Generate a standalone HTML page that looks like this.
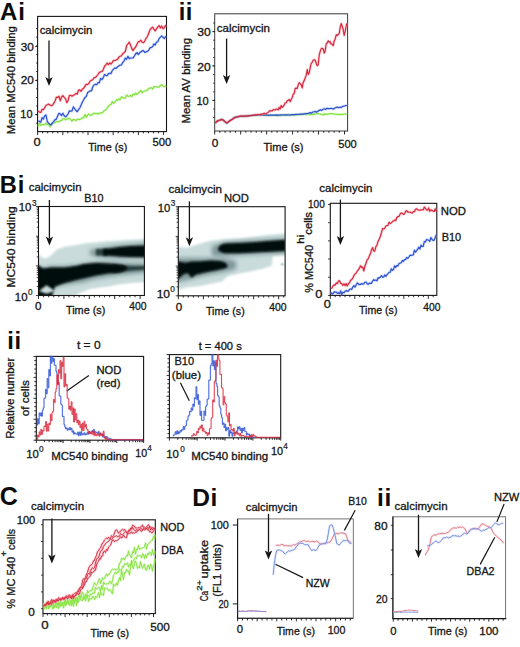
<!DOCTYPE html>
<html><head><meta charset="utf-8"><style>
html,body{margin:0;padding:0;background:#fff;}
svg{display:block;font-family:"Liberation Sans", sans-serif;}
</style></head><body>
<svg width="520" height="647" viewBox="0 0 520 647">
<rect width="520" height="647" fill="#fff"/>
<text x="0.0" y="19.7" font-size="24" font-weight="bold" fill="#0c0c0c" letter-spacing="1.0">Ai</text>
<rect x="37.6" y="16.4" width="128.9" height="115.19999999999999" fill="none" stroke="#161616" stroke-width="1.1"/>
<text x="39.67" y="34.1" font-size="10.6" font-weight="normal" fill="#161616" stroke="#161616" stroke-width="0.3" textLength="52.66" lengthAdjust="spacingAndGlyphs">calcimycin</text>
<line x1="49.00" y1="40.40" x2="49.00" y2="79.00" stroke="#161616" stroke-width="1.3"/>
<path d="M45.30,77.00 L49.00,79.20 L52.70,77.00 L49.00,86.00 Z" fill="#161616"/>
<text x="20.66" y="50.5" font-size="10.8" font-weight="normal" fill="#161616" stroke="#161616" stroke-width="0.3" textLength="13.08" lengthAdjust="spacingAndGlyphs">30</text>
<line x1="37.60" y1="46.60" x2="35.20" y2="46.60" stroke="#161616" stroke-width="0.9"/>
<text x="20.66" y="84.1" font-size="10.8" font-weight="normal" fill="#161616" stroke="#161616" stroke-width="0.3" textLength="13.08" lengthAdjust="spacingAndGlyphs">20</text>
<line x1="37.60" y1="80.60" x2="35.20" y2="80.60" stroke="#161616" stroke-width="0.9"/>
<text x="20.36" y="117.7" font-size="10.8" font-weight="normal" fill="#161616" stroke="#161616" stroke-width="0.3" textLength="12.18" lengthAdjust="spacingAndGlyphs">10</text>
<line x1="37.60" y1="114.60" x2="35.20" y2="114.60" stroke="#161616" stroke-width="0.9"/>
<line x1="37.60" y1="123.20" x2="36.00" y2="123.20" stroke="#161616" stroke-width="0.8"/>
<line x1="37.60" y1="114.60" x2="36.00" y2="114.60" stroke="#161616" stroke-width="0.8"/>
<line x1="37.60" y1="106.00" x2="36.00" y2="106.00" stroke="#161616" stroke-width="0.8"/>
<line x1="37.60" y1="97.40" x2="36.00" y2="97.40" stroke="#161616" stroke-width="0.8"/>
<line x1="37.60" y1="88.80" x2="36.00" y2="88.80" stroke="#161616" stroke-width="0.8"/>
<line x1="37.60" y1="80.20" x2="36.00" y2="80.20" stroke="#161616" stroke-width="0.8"/>
<line x1="37.60" y1="71.60" x2="36.00" y2="71.60" stroke="#161616" stroke-width="0.8"/>
<line x1="37.60" y1="63.00" x2="36.00" y2="63.00" stroke="#161616" stroke-width="0.8"/>
<line x1="37.60" y1="54.40" x2="36.00" y2="54.40" stroke="#161616" stroke-width="0.8"/>
<line x1="37.60" y1="45.80" x2="36.00" y2="45.80" stroke="#161616" stroke-width="0.8"/>
<line x1="37.60" y1="37.20" x2="36.00" y2="37.20" stroke="#161616" stroke-width="0.8"/>
<line x1="37.60" y1="28.60" x2="36.00" y2="28.60" stroke="#161616" stroke-width="0.8"/>
<text x="-0.55" y="0" font-size="11" fill="#161616" stroke="#161616" stroke-width="0.3" transform="translate(14.6,133.8) rotate(-90)" textLength="108.30" lengthAdjust="spacingAndGlyphs">Mean MC540 binding</text>
<line x1="37.60" y1="131.60" x2="37.60" y2="135.10" stroke="#161616" stroke-width="0.9"/>
<line x1="42.64" y1="131.60" x2="42.64" y2="133.40" stroke="#161616" stroke-width="0.9"/>
<line x1="47.68" y1="131.60" x2="47.68" y2="133.40" stroke="#161616" stroke-width="0.9"/>
<line x1="52.72" y1="131.60" x2="52.72" y2="133.40" stroke="#161616" stroke-width="0.9"/>
<line x1="57.76" y1="131.60" x2="57.76" y2="133.40" stroke="#161616" stroke-width="0.9"/>
<line x1="62.80" y1="131.60" x2="62.80" y2="135.10" stroke="#161616" stroke-width="0.9"/>
<line x1="67.84" y1="131.60" x2="67.84" y2="133.40" stroke="#161616" stroke-width="0.9"/>
<line x1="72.88" y1="131.60" x2="72.88" y2="133.40" stroke="#161616" stroke-width="0.9"/>
<line x1="77.92" y1="131.60" x2="77.92" y2="133.40" stroke="#161616" stroke-width="0.9"/>
<line x1="82.96" y1="131.60" x2="82.96" y2="133.40" stroke="#161616" stroke-width="0.9"/>
<line x1="88.00" y1="131.60" x2="88.00" y2="135.10" stroke="#161616" stroke-width="0.9"/>
<line x1="93.04" y1="131.60" x2="93.04" y2="133.40" stroke="#161616" stroke-width="0.9"/>
<line x1="98.08" y1="131.60" x2="98.08" y2="133.40" stroke="#161616" stroke-width="0.9"/>
<line x1="103.12" y1="131.60" x2="103.12" y2="133.40" stroke="#161616" stroke-width="0.9"/>
<line x1="108.16" y1="131.60" x2="108.16" y2="133.40" stroke="#161616" stroke-width="0.9"/>
<line x1="113.20" y1="131.60" x2="113.20" y2="135.10" stroke="#161616" stroke-width="0.9"/>
<line x1="118.24" y1="131.60" x2="118.24" y2="133.40" stroke="#161616" stroke-width="0.9"/>
<line x1="123.28" y1="131.60" x2="123.28" y2="133.40" stroke="#161616" stroke-width="0.9"/>
<line x1="128.32" y1="131.60" x2="128.32" y2="133.40" stroke="#161616" stroke-width="0.9"/>
<line x1="133.36" y1="131.60" x2="133.36" y2="133.40" stroke="#161616" stroke-width="0.9"/>
<line x1="138.40" y1="131.60" x2="138.40" y2="135.10" stroke="#161616" stroke-width="0.9"/>
<line x1="143.44" y1="131.60" x2="143.44" y2="133.40" stroke="#161616" stroke-width="0.9"/>
<line x1="148.48" y1="131.60" x2="148.48" y2="133.40" stroke="#161616" stroke-width="0.9"/>
<line x1="153.52" y1="131.60" x2="153.52" y2="133.40" stroke="#161616" stroke-width="0.9"/>
<line x1="158.56" y1="131.60" x2="158.56" y2="133.40" stroke="#161616" stroke-width="0.9"/>
<line x1="163.60" y1="131.60" x2="163.60" y2="135.10" stroke="#161616" stroke-width="0.9"/>
<text x="33.46" y="145.9" font-size="10.8" font-weight="normal" fill="#161616" stroke="#161616" stroke-width="0.3" textLength="7.18" lengthAdjust="spacingAndGlyphs">0</text>
<text x="152.56" y="145.8" font-size="10.8" font-weight="normal" fill="#161616" stroke="#161616" stroke-width="0.3" textLength="18.78" lengthAdjust="spacingAndGlyphs">500</text>
<text x="88.16" y="150.6" font-size="10.8" font-weight="normal" fill="#161616" stroke="#161616" stroke-width="0.3" textLength="39.08" lengthAdjust="spacingAndGlyphs">Time (s)</text>
<text x="178.7" y="19.6" font-size="23.7" font-weight="bold" fill="#0c0c0c" letter-spacing="0.6">ii</text>
<rect x="214.7" y="13.8" width="132.90000000000003" height="117.2" fill="none" stroke="#3a3a3a" stroke-width="1.0"/>
<text x="216.77" y="32.0" font-size="10.6" font-weight="normal" fill="#161616" stroke="#161616" stroke-width="0.3" textLength="53.26" lengthAdjust="spacingAndGlyphs">calcimycin</text>
<line x1="226.60" y1="38.50" x2="226.60" y2="77.10" stroke="#161616" stroke-width="1.3"/>
<path d="M222.90,75.10 L226.60,77.30 L230.30,75.10 L226.60,84.10 Z" fill="#161616"/>
<text x="197.16" y="35.8" font-size="10.8" font-weight="normal" fill="#161616" stroke="#161616" stroke-width="0.3" textLength="13.48" lengthAdjust="spacingAndGlyphs">30</text>
<line x1="214.70" y1="31.60" x2="212.30" y2="31.60" stroke="#161616" stroke-width="0.9"/>
<text x="197.16" y="71" font-size="10.8" font-weight="normal" fill="#161616" stroke="#161616" stroke-width="0.3" textLength="13.48" lengthAdjust="spacingAndGlyphs">20</text>
<line x1="214.70" y1="65.90" x2="212.30" y2="65.90" stroke="#161616" stroke-width="0.9"/>
<text x="196.46" y="105.3" font-size="10.8" font-weight="normal" fill="#161616" stroke="#161616" stroke-width="0.3" textLength="12.28" lengthAdjust="spacingAndGlyphs">10</text>
<line x1="214.70" y1="100.40" x2="212.30" y2="100.40" stroke="#161616" stroke-width="0.9"/>
<line x1="214.70" y1="117.60" x2="213.10" y2="117.60" stroke="#161616" stroke-width="0.8"/>
<line x1="214.70" y1="109.00" x2="213.10" y2="109.00" stroke="#161616" stroke-width="0.8"/>
<line x1="214.70" y1="100.40" x2="213.10" y2="100.40" stroke="#161616" stroke-width="0.8"/>
<line x1="214.70" y1="91.80" x2="213.10" y2="91.80" stroke="#161616" stroke-width="0.8"/>
<line x1="214.70" y1="83.20" x2="213.10" y2="83.20" stroke="#161616" stroke-width="0.8"/>
<line x1="214.70" y1="74.60" x2="213.10" y2="74.60" stroke="#161616" stroke-width="0.8"/>
<line x1="214.70" y1="66.00" x2="213.10" y2="66.00" stroke="#161616" stroke-width="0.8"/>
<line x1="214.70" y1="57.40" x2="213.10" y2="57.40" stroke="#161616" stroke-width="0.8"/>
<line x1="214.70" y1="48.80" x2="213.10" y2="48.80" stroke="#161616" stroke-width="0.8"/>
<line x1="214.70" y1="40.20" x2="213.10" y2="40.20" stroke="#161616" stroke-width="0.8"/>
<line x1="214.70" y1="31.60" x2="213.10" y2="31.60" stroke="#161616" stroke-width="0.8"/>
<line x1="214.70" y1="23.00" x2="213.10" y2="23.00" stroke="#161616" stroke-width="0.8"/>
<text x="-0.55" y="0" font-size="11" fill="#161616" stroke="#161616" stroke-width="0.3" transform="translate(190.4,123) rotate(-90)" textLength="85.60" lengthAdjust="spacingAndGlyphs">Mean AV binding</text>
<line x1="214.70" y1="131.00" x2="214.70" y2="134.50" stroke="#161616" stroke-width="0.9"/>
<line x1="219.89" y1="131.00" x2="219.89" y2="132.80" stroke="#161616" stroke-width="0.9"/>
<line x1="225.08" y1="131.00" x2="225.08" y2="132.80" stroke="#161616" stroke-width="0.9"/>
<line x1="230.28" y1="131.00" x2="230.28" y2="132.80" stroke="#161616" stroke-width="0.9"/>
<line x1="235.47" y1="131.00" x2="235.47" y2="132.80" stroke="#161616" stroke-width="0.9"/>
<line x1="240.66" y1="131.00" x2="240.66" y2="134.50" stroke="#161616" stroke-width="0.9"/>
<line x1="245.85" y1="131.00" x2="245.85" y2="132.80" stroke="#161616" stroke-width="0.9"/>
<line x1="251.04" y1="131.00" x2="251.04" y2="132.80" stroke="#161616" stroke-width="0.9"/>
<line x1="256.24" y1="131.00" x2="256.24" y2="132.80" stroke="#161616" stroke-width="0.9"/>
<line x1="261.43" y1="131.00" x2="261.43" y2="132.80" stroke="#161616" stroke-width="0.9"/>
<line x1="266.62" y1="131.00" x2="266.62" y2="134.50" stroke="#161616" stroke-width="0.9"/>
<line x1="271.81" y1="131.00" x2="271.81" y2="132.80" stroke="#161616" stroke-width="0.9"/>
<line x1="277.00" y1="131.00" x2="277.00" y2="132.80" stroke="#161616" stroke-width="0.9"/>
<line x1="282.20" y1="131.00" x2="282.20" y2="132.80" stroke="#161616" stroke-width="0.9"/>
<line x1="287.39" y1="131.00" x2="287.39" y2="132.80" stroke="#161616" stroke-width="0.9"/>
<line x1="292.58" y1="131.00" x2="292.58" y2="134.50" stroke="#161616" stroke-width="0.9"/>
<line x1="297.77" y1="131.00" x2="297.77" y2="132.80" stroke="#161616" stroke-width="0.9"/>
<line x1="302.96" y1="131.00" x2="302.96" y2="132.80" stroke="#161616" stroke-width="0.9"/>
<line x1="308.16" y1="131.00" x2="308.16" y2="132.80" stroke="#161616" stroke-width="0.9"/>
<line x1="313.35" y1="131.00" x2="313.35" y2="132.80" stroke="#161616" stroke-width="0.9"/>
<line x1="318.54" y1="131.00" x2="318.54" y2="134.50" stroke="#161616" stroke-width="0.9"/>
<line x1="323.73" y1="131.00" x2="323.73" y2="132.80" stroke="#161616" stroke-width="0.9"/>
<line x1="328.92" y1="131.00" x2="328.92" y2="132.80" stroke="#161616" stroke-width="0.9"/>
<line x1="334.12" y1="131.00" x2="334.12" y2="132.80" stroke="#161616" stroke-width="0.9"/>
<line x1="339.31" y1="131.00" x2="339.31" y2="132.80" stroke="#161616" stroke-width="0.9"/>
<line x1="344.50" y1="131.00" x2="344.50" y2="134.50" stroke="#161616" stroke-width="0.9"/>
<text x="211.76" y="147" font-size="10.8" font-weight="normal" fill="#161616" stroke="#161616" stroke-width="0.3" textLength="6.58" lengthAdjust="spacingAndGlyphs">0</text>
<text x="338.26" y="147.9" font-size="10.8" font-weight="normal" fill="#161616" stroke="#161616" stroke-width="0.3" textLength="18.48" lengthAdjust="spacingAndGlyphs">500</text>
<text x="263.46" y="150.5" font-size="10.8" font-weight="normal" fill="#161616" stroke="#161616" stroke-width="0.3" textLength="40.08" lengthAdjust="spacingAndGlyphs">Time (s)</text>
<path d="M38.2,126.6 L39.5,123.0 L40.8,125.3 L42.1,124.5 L43.4,124.6 L44.7,124.8 L46.0,123.2 L47.3,124.5 L48.6,123.8 L49.9,127.1 L51.2,124.5 L52.5,123.7 L53.8,123.3 L55.1,122.4 L56.4,121.6 L57.7,121.6 L59.0,121.8 L60.3,120.7 L61.6,120.6 L62.9,118.7 L64.2,118.6 L65.5,119.8 L66.8,119.0 L68.1,118.2 L69.4,118.8 L70.7,119.6 L72.0,121.0 L73.3,119.4 L74.6,119.6 L75.9,120.7 L77.2,119.3 L78.5,119.2 L79.8,119.6 L81.1,118.8 L82.4,117.8 L83.7,117.8 L85.0,114.5 L86.3,117.1 L87.6,115.1 L88.9,114.0 L90.2,115.3 L91.5,115.2 L92.8,114.0 L94.1,113.1 L95.4,113.7 L96.7,113.3 L98.0,114.2 L99.3,113.4 L100.6,112.7 L101.9,113.2 L103.2,111.9 L104.5,110.3 L105.8,109.9 L107.1,108.4 L108.4,106.1 L109.7,104.8 L111.0,104.7 L112.3,101.6 L113.6,103.3 L114.9,102.2 L116.2,99.8 L117.5,100.4 L118.8,98.9 L120.1,99.6 L121.4,96.9 L122.7,97.4 L124.0,98.2 L125.3,98.2 L126.6,95.1 L127.9,96.1 L129.2,96.4 L130.5,95.3 L131.8,96.7 L133.1,94.1 L134.4,94.8 L135.7,93.1 L137.0,94.5 L138.3,92.8 L139.6,92.0 L140.9,90.4 L142.2,92.7 L143.5,91.5 L144.8,91.0 L146.1,90.8 L147.4,89.8 L148.7,88.6 L150.0,88.0 L151.3,87.6 L152.6,89.0 L153.9,86.5 L155.2,86.9 L156.5,86.9 L157.8,87.1 L159.1,87.1 L160.4,85.4 L161.7,84.8 L163.0,85.9 L164.3,86.7 L165.6,86.1 L166.0,85.6" fill="none" stroke="#b8f090" stroke-width="2.8" stroke-linejoin="round" opacity="0.35"/>
<path d="M38.2,126.6 L39.5,123.0 L40.8,125.3 L42.1,124.5 L43.4,124.6 L44.7,124.8 L46.0,123.2 L47.3,124.5 L48.6,123.8 L49.9,127.1 L51.2,124.5 L52.5,123.7 L53.8,123.3 L55.1,122.4 L56.4,121.6 L57.7,121.6 L59.0,121.8 L60.3,120.7 L61.6,120.6 L62.9,118.7 L64.2,118.6 L65.5,119.8 L66.8,119.0 L68.1,118.2 L69.4,118.8 L70.7,119.6 L72.0,121.0 L73.3,119.4 L74.6,119.6 L75.9,120.7 L77.2,119.3 L78.5,119.2 L79.8,119.6 L81.1,118.8 L82.4,117.8 L83.7,117.8 L85.0,114.5 L86.3,117.1 L87.6,115.1 L88.9,114.0 L90.2,115.3 L91.5,115.2 L92.8,114.0 L94.1,113.1 L95.4,113.7 L96.7,113.3 L98.0,114.2 L99.3,113.4 L100.6,112.7 L101.9,113.2 L103.2,111.9 L104.5,110.3 L105.8,109.9 L107.1,108.4 L108.4,106.1 L109.7,104.8 L111.0,104.7 L112.3,101.6 L113.6,103.3 L114.9,102.2 L116.2,99.8 L117.5,100.4 L118.8,98.9 L120.1,99.6 L121.4,96.9 L122.7,97.4 L124.0,98.2 L125.3,98.2 L126.6,95.1 L127.9,96.1 L129.2,96.4 L130.5,95.3 L131.8,96.7 L133.1,94.1 L134.4,94.8 L135.7,93.1 L137.0,94.5 L138.3,92.8 L139.6,92.0 L140.9,90.4 L142.2,92.7 L143.5,91.5 L144.8,91.0 L146.1,90.8 L147.4,89.8 L148.7,88.6 L150.0,88.0 L151.3,87.6 L152.6,89.0 L153.9,86.5 L155.2,86.9 L156.5,86.9 L157.8,87.1 L159.1,87.1 L160.4,85.4 L161.7,84.8 L163.0,85.9 L164.3,86.7 L165.6,86.1 L166.0,85.6" fill="none" stroke="#84e23c" stroke-width="1.2" stroke-linejoin="round"/>
<path d="M38.2,121.2 L39.5,121.3 L40.8,122.2 L42.1,117.7 L43.4,119.1 L44.7,115.8 L46.0,115.0 L47.3,121.7 L48.6,123.2 L49.9,124.3 L51.2,124.9 L52.5,122.6 L53.8,121.4 L55.1,119.6 L56.4,119.1 L57.7,115.7 L59.0,113.3 L60.3,114.0 L61.6,115.5 L62.9,113.3 L64.2,115.7 L65.5,116.9 L66.8,115.7 L68.1,114.0 L69.4,110.8 L70.7,111.1 L72.0,111.0 L73.3,106.9 L74.6,108.6 L75.9,110.5 L77.2,111.7 L78.5,109.7 L79.8,108.0 L81.1,105.1 L82.4,102.0 L83.7,99.8 L85.0,97.4 L86.3,96.4 L87.6,92.6 L88.9,91.7 L90.2,90.8 L91.5,90.8 L92.8,86.8 L94.1,85.0 L95.4,84.2 L96.7,84.7 L98.0,82.5 L99.3,82.9 L100.6,78.3 L101.9,79.6 L103.2,77.9 L104.5,74.5 L105.8,75.3 L107.1,75.6 L108.4,73.7 L109.7,73.4 L111.0,73.5 L112.3,70.4 L113.6,69.1 L114.9,67.9 L116.2,68.5 L117.5,66.8 L118.8,65.9 L120.1,65.1 L121.4,65.0 L122.7,62.5 L124.0,61.1 L125.3,58.1 L126.6,59.3 L127.9,56.3 L129.2,58.6 L130.5,58.0 L131.8,58.0 L133.1,57.9 L134.4,56.0 L135.7,53.6 L137.0,52.7 L138.3,54.6 L139.6,52.6 L140.9,52.0 L142.2,50.8 L143.5,50.7 L144.8,52.5 L146.1,51.9 L147.4,51.3 L148.7,50.3 L150.0,47.9 L151.3,47.4 L152.6,46.7 L153.9,43.9 L155.2,45.1 L156.5,42.1 L157.8,41.7 L159.1,38.6 L160.4,37.1 L161.7,35.8 L163.0,37.3 L164.3,38.5 L165.6,36.7 L166.0,36.0" fill="none" stroke="#8aa0f0" stroke-width="2.8" stroke-linejoin="round" opacity="0.35"/>
<path d="M38.2,121.2 L39.5,121.3 L40.8,122.2 L42.1,117.7 L43.4,119.1 L44.7,115.8 L46.0,115.0 L47.3,121.7 L48.6,123.2 L49.9,124.3 L51.2,124.9 L52.5,122.6 L53.8,121.4 L55.1,119.6 L56.4,119.1 L57.7,115.7 L59.0,113.3 L60.3,114.0 L61.6,115.5 L62.9,113.3 L64.2,115.7 L65.5,116.9 L66.8,115.7 L68.1,114.0 L69.4,110.8 L70.7,111.1 L72.0,111.0 L73.3,106.9 L74.6,108.6 L75.9,110.5 L77.2,111.7 L78.5,109.7 L79.8,108.0 L81.1,105.1 L82.4,102.0 L83.7,99.8 L85.0,97.4 L86.3,96.4 L87.6,92.6 L88.9,91.7 L90.2,90.8 L91.5,90.8 L92.8,86.8 L94.1,85.0 L95.4,84.2 L96.7,84.7 L98.0,82.5 L99.3,82.9 L100.6,78.3 L101.9,79.6 L103.2,77.9 L104.5,74.5 L105.8,75.3 L107.1,75.6 L108.4,73.7 L109.7,73.4 L111.0,73.5 L112.3,70.4 L113.6,69.1 L114.9,67.9 L116.2,68.5 L117.5,66.8 L118.8,65.9 L120.1,65.1 L121.4,65.0 L122.7,62.5 L124.0,61.1 L125.3,58.1 L126.6,59.3 L127.9,56.3 L129.2,58.6 L130.5,58.0 L131.8,58.0 L133.1,57.9 L134.4,56.0 L135.7,53.6 L137.0,52.7 L138.3,54.6 L139.6,52.6 L140.9,52.0 L142.2,50.8 L143.5,50.7 L144.8,52.5 L146.1,51.9 L147.4,51.3 L148.7,50.3 L150.0,47.9 L151.3,47.4 L152.6,46.7 L153.9,43.9 L155.2,45.1 L156.5,42.1 L157.8,41.7 L159.1,38.6 L160.4,37.1 L161.7,35.8 L163.0,37.3 L164.3,38.5 L165.6,36.7 L166.0,36.0" fill="none" stroke="#2c52d2" stroke-width="1.2" stroke-linejoin="round"/>
<path d="M38.2,110.8 L39.5,112.1 L40.8,112.4 L42.1,109.2 L43.4,109.7 L44.7,107.7 L46.0,105.2 L47.3,104.7 L48.6,104.1 L49.9,105.0 L51.2,105.7 L52.5,105.3 L53.8,103.1 L55.1,101.0 L56.4,97.1 L57.7,97.5 L59.0,96.3 L60.3,100.9 L61.6,97.0 L62.9,95.6 L64.2,97.4 L65.5,98.8 L66.8,102.6 L68.1,100.7 L69.4,95.5 L70.7,95.3 L72.0,96.2 L73.3,95.2 L74.6,94.7 L75.9,93.3 L77.2,94.2 L78.5,90.2 L79.8,89.9 L81.1,91.3 L82.4,89.1 L83.7,88.2 L85.0,86.2 L86.3,84.2 L87.6,84.7 L88.9,83.4 L90.2,81.0 L91.5,80.3 L92.8,79.7 L94.1,77.7 L95.4,77.4 L96.7,76.2 L98.0,74.5 L99.3,72.4 L100.6,71.9 L101.9,71.5 L103.2,69.9 L104.5,66.2 L105.8,65.0 L107.1,63.1 L108.4,64.6 L109.7,62.9 L111.0,64.2 L112.3,62.4 L113.6,60.4 L114.9,60.5 L116.2,60.0 L117.5,59.4 L118.8,57.3 L120.1,56.3 L121.4,55.9 L122.7,53.7 L124.0,52.7 L125.3,51.5 L126.6,45.7 L127.9,44.0 L129.2,42.1 L130.5,44.9 L131.8,48.6 L133.1,50.6 L134.4,48.3 L135.7,47.0 L137.0,44.1 L138.3,41.7 L139.6,41.7 L140.9,40.2 L142.2,42.3 L143.5,42.6 L144.8,41.1 L146.1,38.1 L147.4,36.6 L148.7,33.2 L150.0,29.8 L151.3,28.2 L152.6,27.1 L153.9,29.1 L155.2,30.9 L156.5,28.8 L157.8,26.9 L159.1,25.6 L160.4,28.0 L161.7,25.9 L163.0,28.7 L164.3,27.8 L165.6,25.4 L166.0,26.7" fill="none" stroke="#f08898" stroke-width="2.8" stroke-linejoin="round" opacity="0.35"/>
<path d="M38.2,110.8 L39.5,112.1 L40.8,112.4 L42.1,109.2 L43.4,109.7 L44.7,107.7 L46.0,105.2 L47.3,104.7 L48.6,104.1 L49.9,105.0 L51.2,105.7 L52.5,105.3 L53.8,103.1 L55.1,101.0 L56.4,97.1 L57.7,97.5 L59.0,96.3 L60.3,100.9 L61.6,97.0 L62.9,95.6 L64.2,97.4 L65.5,98.8 L66.8,102.6 L68.1,100.7 L69.4,95.5 L70.7,95.3 L72.0,96.2 L73.3,95.2 L74.6,94.7 L75.9,93.3 L77.2,94.2 L78.5,90.2 L79.8,89.9 L81.1,91.3 L82.4,89.1 L83.7,88.2 L85.0,86.2 L86.3,84.2 L87.6,84.7 L88.9,83.4 L90.2,81.0 L91.5,80.3 L92.8,79.7 L94.1,77.7 L95.4,77.4 L96.7,76.2 L98.0,74.5 L99.3,72.4 L100.6,71.9 L101.9,71.5 L103.2,69.9 L104.5,66.2 L105.8,65.0 L107.1,63.1 L108.4,64.6 L109.7,62.9 L111.0,64.2 L112.3,62.4 L113.6,60.4 L114.9,60.5 L116.2,60.0 L117.5,59.4 L118.8,57.3 L120.1,56.3 L121.4,55.9 L122.7,53.7 L124.0,52.7 L125.3,51.5 L126.6,45.7 L127.9,44.0 L129.2,42.1 L130.5,44.9 L131.8,48.6 L133.1,50.6 L134.4,48.3 L135.7,47.0 L137.0,44.1 L138.3,41.7 L139.6,41.7 L140.9,40.2 L142.2,42.3 L143.5,42.6 L144.8,41.1 L146.1,38.1 L147.4,36.6 L148.7,33.2 L150.0,29.8 L151.3,28.2 L152.6,27.1 L153.9,29.1 L155.2,30.9 L156.5,28.8 L157.8,26.9 L159.1,25.6 L160.4,28.0 L161.7,25.9 L163.0,28.7 L164.3,27.8 L165.6,25.4 L166.0,26.7" fill="none" stroke="#d8283c" stroke-width="1.2" stroke-linejoin="round"/>
<path d="M215.2,122.7 L216.5,121.8 L217.8,121.0 L219.1,120.3 L220.4,119.7 L221.7,119.3 L223.0,119.9 L224.3,120.9 L225.6,122.1 L226.9,123.1 L228.2,122.1 L229.5,121.1 L230.8,120.0 L232.1,119.2 L233.4,118.3 L234.7,117.7 L236.0,117.1 L237.3,117.0 L238.6,116.7 L239.9,116.4 L241.2,116.2 L242.5,116.1 L243.8,116.1 L245.1,116.0 L246.4,116.0 L247.7,115.8 L249.0,115.8 L250.3,115.6 L251.6,115.6 L252.9,115.3 L254.2,115.3 L255.5,115.2 L256.8,115.0 L258.1,115.1 L259.4,115.1 L260.7,115.2 L262.0,115.3 L263.3,115.2 L264.6,115.2 L265.9,115.3 L267.2,115.5 L268.5,115.6 L269.8,115.4 L271.1,115.5 L272.4,115.4 L273.7,115.4 L275.0,115.4 L276.3,115.4 L277.6,115.9 L278.9,115.2 L280.2,115.2 L281.5,115.4 L282.8,115.0 L284.1,115.1 L285.4,115.2 L286.7,115.4 L288.0,114.6 L289.3,115.5 L290.6,114.8 L291.9,115.0 L293.2,115.1 L294.5,115.0 L295.8,115.1 L297.1,114.7 L298.4,114.5 L299.7,114.6 L301.0,114.1 L302.3,114.8 L303.6,114.0 L304.9,113.8 L306.2,114.9 L307.5,114.2 L308.8,113.8 L310.1,114.8 L311.4,114.1 L312.7,114.6 L314.0,113.9 L315.3,114.1 L316.6,113.6 L317.9,113.5 L319.2,113.9 L320.5,114.2 L321.8,114.5 L323.1,115.0 L324.4,113.8 L325.7,114.6 L327.0,114.0 L328.3,114.1 L329.6,113.7 L330.9,113.7 L332.2,113.9 L333.5,113.8 L334.8,114.2 L336.1,114.0 L337.4,114.6 L338.7,114.3 L340.0,114.3 L341.3,114.6 L342.6,114.4 L343.9,114.2 L345.2,114.2 L346.5,114.2 L346.7,114.6" fill="none" stroke="#b8f090" stroke-width="2.8" stroke-linejoin="round" opacity="0.35"/>
<path d="M215.2,122.7 L216.5,121.8 L217.8,121.0 L219.1,120.3 L220.4,119.7 L221.7,119.3 L223.0,119.9 L224.3,120.9 L225.6,122.1 L226.9,123.1 L228.2,122.1 L229.5,121.1 L230.8,120.0 L232.1,119.2 L233.4,118.3 L234.7,117.7 L236.0,117.1 L237.3,117.0 L238.6,116.7 L239.9,116.4 L241.2,116.2 L242.5,116.1 L243.8,116.1 L245.1,116.0 L246.4,116.0 L247.7,115.8 L249.0,115.8 L250.3,115.6 L251.6,115.6 L252.9,115.3 L254.2,115.3 L255.5,115.2 L256.8,115.0 L258.1,115.1 L259.4,115.1 L260.7,115.2 L262.0,115.3 L263.3,115.2 L264.6,115.2 L265.9,115.3 L267.2,115.5 L268.5,115.6 L269.8,115.4 L271.1,115.5 L272.4,115.4 L273.7,115.4 L275.0,115.4 L276.3,115.4 L277.6,115.9 L278.9,115.2 L280.2,115.2 L281.5,115.4 L282.8,115.0 L284.1,115.1 L285.4,115.2 L286.7,115.4 L288.0,114.6 L289.3,115.5 L290.6,114.8 L291.9,115.0 L293.2,115.1 L294.5,115.0 L295.8,115.1 L297.1,114.7 L298.4,114.5 L299.7,114.6 L301.0,114.1 L302.3,114.8 L303.6,114.0 L304.9,113.8 L306.2,114.9 L307.5,114.2 L308.8,113.8 L310.1,114.8 L311.4,114.1 L312.7,114.6 L314.0,113.9 L315.3,114.1 L316.6,113.6 L317.9,113.5 L319.2,113.9 L320.5,114.2 L321.8,114.5 L323.1,115.0 L324.4,113.8 L325.7,114.6 L327.0,114.0 L328.3,114.1 L329.6,113.7 L330.9,113.7 L332.2,113.9 L333.5,113.8 L334.8,114.2 L336.1,114.0 L337.4,114.6 L338.7,114.3 L340.0,114.3 L341.3,114.6 L342.6,114.4 L343.9,114.2 L345.2,114.2 L346.5,114.2 L346.7,114.6" fill="none" stroke="#84e23c" stroke-width="1.2" stroke-linejoin="round"/>
<path d="M215.2,122.6 L216.5,121.7 L217.8,120.9 L219.1,120.3 L220.4,119.9 L221.7,119.3 L223.0,119.9 L224.3,120.9 L225.6,122.3 L226.9,123.3 L228.2,122.1 L229.5,120.9 L230.8,119.9 L232.1,119.3 L233.4,118.4 L234.7,117.4 L236.0,117.2 L237.3,116.9 L238.6,116.6 L239.9,116.4 L241.2,116.2 L242.5,116.2 L243.8,116.1 L245.1,116.0 L246.4,116.0 L247.7,115.9 L249.0,115.6 L250.3,115.6 L251.6,115.5 L252.9,115.4 L254.2,115.2 L255.5,115.2 L256.8,115.1 L258.1,115.0 L259.4,114.9 L260.7,115.0 L262.0,115.0 L263.3,115.0 L264.6,115.1 L265.9,115.0 L267.2,115.2 L268.5,115.2 L269.8,115.0 L271.1,115.2 L272.4,115.1 L273.7,115.2 L275.0,115.1 L276.3,114.9 L277.6,115.1 L278.9,115.0 L280.2,115.1 L281.5,114.9 L282.8,115.0 L284.1,114.8 L285.4,114.9 L286.7,114.8 L288.0,115.0 L289.3,114.9 L290.6,115.0 L291.9,114.7 L293.2,114.7 L294.5,114.6 L295.8,114.3 L297.1,114.3 L298.4,114.5 L299.7,114.1 L301.0,114.1 L302.3,114.0 L303.6,114.1 L304.9,113.7 L306.2,113.6 L307.5,113.5 L308.8,113.2 L310.1,112.6 L311.4,113.1 L312.7,112.0 L314.0,111.8 L315.3,111.4 L316.6,112.2 L317.9,111.1 L319.2,110.4 L320.5,109.9 L321.8,110.4 L323.1,109.2 L324.4,108.7 L325.7,109.4 L327.0,108.2 L328.3,108.6 L329.6,108.7 L330.9,108.3 L332.2,108.5 L333.5,109.1 L334.8,108.0 L336.1,107.5 L337.4,107.1 L338.7,107.7 L340.0,107.3 L341.3,107.3 L342.6,106.5 L343.9,106.2 L345.2,105.7 L346.5,105.5 L346.7,105.8" fill="none" stroke="#8aa0f0" stroke-width="2.8" stroke-linejoin="round" opacity="0.35"/>
<path d="M215.2,122.6 L216.5,121.7 L217.8,120.9 L219.1,120.3 L220.4,119.9 L221.7,119.3 L223.0,119.9 L224.3,120.9 L225.6,122.3 L226.9,123.3 L228.2,122.1 L229.5,120.9 L230.8,119.9 L232.1,119.3 L233.4,118.4 L234.7,117.4 L236.0,117.2 L237.3,116.9 L238.6,116.6 L239.9,116.4 L241.2,116.2 L242.5,116.2 L243.8,116.1 L245.1,116.0 L246.4,116.0 L247.7,115.9 L249.0,115.6 L250.3,115.6 L251.6,115.5 L252.9,115.4 L254.2,115.2 L255.5,115.2 L256.8,115.1 L258.1,115.0 L259.4,114.9 L260.7,115.0 L262.0,115.0 L263.3,115.0 L264.6,115.1 L265.9,115.0 L267.2,115.2 L268.5,115.2 L269.8,115.0 L271.1,115.2 L272.4,115.1 L273.7,115.2 L275.0,115.1 L276.3,114.9 L277.6,115.1 L278.9,115.0 L280.2,115.1 L281.5,114.9 L282.8,115.0 L284.1,114.8 L285.4,114.9 L286.7,114.8 L288.0,115.0 L289.3,114.9 L290.6,115.0 L291.9,114.7 L293.2,114.7 L294.5,114.6 L295.8,114.3 L297.1,114.3 L298.4,114.5 L299.7,114.1 L301.0,114.1 L302.3,114.0 L303.6,114.1 L304.9,113.7 L306.2,113.6 L307.5,113.5 L308.8,113.2 L310.1,112.6 L311.4,113.1 L312.7,112.0 L314.0,111.8 L315.3,111.4 L316.6,112.2 L317.9,111.1 L319.2,110.4 L320.5,109.9 L321.8,110.4 L323.1,109.2 L324.4,108.7 L325.7,109.4 L327.0,108.2 L328.3,108.6 L329.6,108.7 L330.9,108.3 L332.2,108.5 L333.5,109.1 L334.8,108.0 L336.1,107.5 L337.4,107.1 L338.7,107.7 L340.0,107.3 L341.3,107.3 L342.6,106.5 L343.9,106.2 L345.2,105.7 L346.5,105.5 L346.7,105.8" fill="none" stroke="#2c52d2" stroke-width="1.2" stroke-linejoin="round"/>
<path d="M215.2,122.9 L216.2,122.4 L217.2,120.8 L218.2,120.6 L219.2,120.4 L220.2,120.1 L221.2,119.6 L222.2,119.6 L223.2,120.1 L224.2,121.0 L225.2,121.8 L226.2,122.6 L227.2,122.7 L228.2,122.1 L229.2,121.1 L230.2,120.6 L231.2,120.0 L232.2,119.5 L233.2,118.5 L234.2,118.1 L235.2,117.2 L236.2,117.0 L237.2,117.0 L238.2,116.8 L239.2,116.3 L240.2,116.0 L241.2,116.3 L242.2,116.0 L243.2,116.4 L244.2,116.1 L245.2,116.1 L246.2,116.0 L247.2,116.1 L248.2,115.8 L249.2,115.9 L250.2,115.5 L251.2,115.4 L252.2,115.2 L253.2,115.3 L254.2,115.1 L255.2,114.8 L256.2,115.2 L257.2,114.6 L258.2,114.5 L259.2,114.5 L260.2,114.8 L261.2,114.1 L262.2,114.2 L263.2,113.9 L264.2,113.1 L265.2,114.0 L266.2,113.9 L267.2,112.8 L268.2,112.5 L269.2,111.2 L270.2,110.6 L271.2,110.8 L272.2,111.0 L273.2,109.7 L274.2,109.8 L275.2,110.0 L276.2,109.0 L277.2,109.3 L278.2,109.9 L279.2,107.2 L280.2,108.9 L281.2,105.5 L282.2,107.4 L283.2,106.5 L284.2,104.9 L285.2,102.9 L286.2,102.7 L287.2,100.9 L288.2,100.4 L289.2,99.4 L290.2,101.6 L291.2,99.6 L292.2,97.5 L293.2,94.3 L294.2,93.6 L295.2,88.3 L296.2,88.1 L297.2,88.5 L298.2,84.8 L299.2,82.7 L300.2,83.7 L301.2,84.9 L302.2,87.9 L303.2,82.4 L304.2,80.6 L305.2,78.0 L306.2,75.4 L307.2,69.6 L308.2,74.4 L309.2,72.9 L310.2,67.4 L311.2,63.3 L312.2,62.3 L313.2,60.2 L314.2,59.7 L315.2,60.2 L316.2,63.2 L317.2,65.7 L318.2,64.8 L319.2,55.2 L320.2,51.4 L321.2,48.6 L322.2,48.4 L323.2,48.7 L324.2,53.1 L325.2,50.9 L326.2,43.8 L327.2,43.1 L328.2,40.7 L329.2,42.3 L330.2,41.7 L331.2,44.2 L332.2,44.2 L333.2,45.6 L334.2,41.0 L335.2,38.9 L336.2,34.8 L337.2,35.5 L338.2,34.3 L339.2,33.8 L340.2,27.2 L341.2,23.5 L342.2,26.2 L343.2,29.5 L344.2,35.4 L345.2,31.2 L346.2,26.0 L346.9,23.4" fill="none" stroke="#f08898" stroke-width="2.8" stroke-linejoin="round" opacity="0.35"/>
<path d="M215.2,122.9 L216.2,122.4 L217.2,120.8 L218.2,120.6 L219.2,120.4 L220.2,120.1 L221.2,119.6 L222.2,119.6 L223.2,120.1 L224.2,121.0 L225.2,121.8 L226.2,122.6 L227.2,122.7 L228.2,122.1 L229.2,121.1 L230.2,120.6 L231.2,120.0 L232.2,119.5 L233.2,118.5 L234.2,118.1 L235.2,117.2 L236.2,117.0 L237.2,117.0 L238.2,116.8 L239.2,116.3 L240.2,116.0 L241.2,116.3 L242.2,116.0 L243.2,116.4 L244.2,116.1 L245.2,116.1 L246.2,116.0 L247.2,116.1 L248.2,115.8 L249.2,115.9 L250.2,115.5 L251.2,115.4 L252.2,115.2 L253.2,115.3 L254.2,115.1 L255.2,114.8 L256.2,115.2 L257.2,114.6 L258.2,114.5 L259.2,114.5 L260.2,114.8 L261.2,114.1 L262.2,114.2 L263.2,113.9 L264.2,113.1 L265.2,114.0 L266.2,113.9 L267.2,112.8 L268.2,112.5 L269.2,111.2 L270.2,110.6 L271.2,110.8 L272.2,111.0 L273.2,109.7 L274.2,109.8 L275.2,110.0 L276.2,109.0 L277.2,109.3 L278.2,109.9 L279.2,107.2 L280.2,108.9 L281.2,105.5 L282.2,107.4 L283.2,106.5 L284.2,104.9 L285.2,102.9 L286.2,102.7 L287.2,100.9 L288.2,100.4 L289.2,99.4 L290.2,101.6 L291.2,99.6 L292.2,97.5 L293.2,94.3 L294.2,93.6 L295.2,88.3 L296.2,88.1 L297.2,88.5 L298.2,84.8 L299.2,82.7 L300.2,83.7 L301.2,84.9 L302.2,87.9 L303.2,82.4 L304.2,80.6 L305.2,78.0 L306.2,75.4 L307.2,69.6 L308.2,74.4 L309.2,72.9 L310.2,67.4 L311.2,63.3 L312.2,62.3 L313.2,60.2 L314.2,59.7 L315.2,60.2 L316.2,63.2 L317.2,65.7 L318.2,64.8 L319.2,55.2 L320.2,51.4 L321.2,48.6 L322.2,48.4 L323.2,48.7 L324.2,53.1 L325.2,50.9 L326.2,43.8 L327.2,43.1 L328.2,40.7 L329.2,42.3 L330.2,41.7 L331.2,44.2 L332.2,44.2 L333.2,45.6 L334.2,41.0 L335.2,38.9 L336.2,34.8 L337.2,35.5 L338.2,34.3 L339.2,33.8 L340.2,27.2 L341.2,23.5 L342.2,26.2 L343.2,29.5 L344.2,35.4 L345.2,31.2 L346.2,26.0 L346.9,23.4" fill="none" stroke="#d8283c" stroke-width="1.2" stroke-linejoin="round"/>
<defs><filter id="bl1" x="-20%" y="-50%" width="140%" height="200%"><feGaussianBlur stdDeviation="0.9"/></filter><filter id="bl2" x="-20%" y="-50%" width="140%" height="200%"><feGaussianBlur stdDeviation="2.2"/></filter><clipPath id="cpB10"><rect x="38.6" y="207" width="105.6" height="88.4"/></clipPath><clipPath id="cpNOD"><rect x="178.6" y="207" width="106.2" height="88.6"/></clipPath></defs>
<g clip-path="url(#cpB10)">
<path d="M34.0,256.0 L39.5,256.0 L45.2,258.8 L51.0,255.4 L56.8,249.6 L64.8,246.7 L76.4,245.0 L86.0,243.3 L109.0,241.0 L132.2,239.8 L148.0,239.0 L148.0,282.0 L132.0,283.0 L118.0,284.5 L109.0,286.5 L100.0,287.5 L90.0,289.0 L80.0,293.0 L72.0,297.0 L60.0,298.0 L34.0,298.0 Z" fill="#c9dbdb" filter="url(#bl1)"/>
<path d="M90.0,250.0 L100.0,248.0 L109.0,246.5 L120.6,245.0 L148.0,243.0 L148.0,258.5 L120.6,258.5 L109.0,258.0 L100.0,257.0 L90.0,255.0 Z" fill="#7d9696" filter="url(#bl2)"/>
<path d="M34.0,265.0 L43.0,268.0 L51.0,266.0 L64.8,266.0 L82.2,264.0 L97.5,261.5 L114.8,262.0 L126.4,263.0 L148.0,263.5 L148.0,272.5 L126.4,274.5 L114.8,276.0 L97.5,278.5 L82.2,282.5 L70.6,284.0 L59.0,286.0 L51.0,290.0 L34.0,296.0 Z" fill="#7d9696" filter="url(#bl2)"/>
<path d="M112.0,264.3 L131.7,266.0 L148.0,266.0 L148.0,269.6 L131.7,270.8 L112.0,273.0 Z" fill="#2c4040" filter="url(#bl1)"/>
<path d="M34.0,265.5 L39.5,266.0 L43.0,268.5 L51.0,267.5 L64.8,267.5 L76.0,266.0 L84.0,264.0 L95.9,263.0 L107.8,263.6 L119.8,264.8 L124.0,265.6 L127.0,267.5 L127.0,269.0 L124.0,271.0 L119.8,272.4 L107.8,273.6 L95.9,275.5 L84.0,278.3 L76.0,280.0 L70.6,281.5 L64.6,283.0 L59.0,285.0 L55.0,286.5 L54.0,289.0 L52.0,297.0 L34.0,297.0 Z" fill="#040707" filter="url(#bl1)"/>
<path d="M39,291 L46.5,285.3 L55,291 L46.5,293.8 Z" fill="#c9dbdb" filter="url(#bl1)"/>
<path d="M95.9,249.0 L103.0,249.0 L107.8,248.8 L107.8,255.6 L103.0,255.5 L95.9,255.5 Z" fill="#2c4040" filter="url(#bl1)"/>
<path d="M103.0,249.0 L107.8,248.8 L119.8,247.0 L131.7,246.0 L148.0,245.5 L148.0,257.2 L131.7,257.0 L119.8,256.6 L107.8,255.6 L103.0,255.5 Z" fill="#040707" filter="url(#bl1)"/>
</g>
<g clip-path="url(#cpNOD)">
<path d="M175.0,246.9 L178.5,246.9 L187.5,247.5 L199.0,244.0 L210.0,240.8 L222.0,239.4 L239.2,238.6 L253.0,237.0 L268.5,235.0 L288.0,233.3 L288.0,254.0 L272.5,256.0 L271.8,265.4 L262.6,268.8 L251.0,271.2 L239.5,273.5 L228.0,276.0 L222.0,281.5 L210.6,283.8 L199.0,286.2 L187.5,287.3 L178.5,289.6 L175.0,290.0 Z" fill="#c9dbdb" filter="url(#bl1)"/>
<circle cx="282.2" cy="264.2" r="1.8" fill="#c9dbdb"/>
<path d="M175.0,258.0 L199.0,258.0 L222.0,258.0 L236.0,261.0 L236.0,269.0 L222.0,272.5 L210.6,274.5 L199.0,277.0 L187.5,280.0 L175.0,282.5 Z" fill="#7d9696" filter="url(#bl2)"/>
<path d="M212.0,246.0 L224.6,242.0 L239.2,241.0 L268.5,239.5 L288.0,238.5 L288.0,253.5 L268.5,254.0 L239.2,255.5 L224.6,256.5 L212.0,256.0 Z" fill="#7d9696" filter="url(#bl2)"/>
<path d="M175.0,261.5 L178.5,261.5 L185.2,262.7 L192.2,261.5 L199.1,261.5 L210.6,260.4 L219.8,261.0 L224.5,262.2 L226.8,264.2 L227.6,266.0 L227.6,266.5 L226.8,267.5 L224.5,268.5 L222.0,269.0 L216.4,270.2 L204.8,272.5 L195.6,274.8 L191.6,277.7 L187.5,273.1 L182.9,274.8 L178.5,278.8 L175.0,278.8 Z" fill="#040707" filter="url(#bl1)"/>
<path d="M218.2,248.8 L218.8,246.8 L220.6,245.0 L224.6,243.6 L239.2,242.9 L253.8,242.2 L268.5,241.1 L283.1,240.0 L288.0,239.7 L288.0,250.8 L283.1,251.0 L268.5,251.7 L253.8,252.4 L239.2,253.2 L224.6,253.2 L220.6,252.0 L218.8,251.0 L218.2,249.6 Z" fill="#040707" filter="url(#bl1)"/>
</g>
<text x="-0.2" y="193.4" font-size="23.7" font-weight="bold" fill="#0c0c0c" letter-spacing="0.8">Bi</text>
<text x="28.67" y="191.4" font-size="10.6" font-weight="normal" fill="#161616" stroke="#161616" stroke-width="0.3" textLength="52.86" lengthAdjust="spacingAndGlyphs">calcimycin</text>
<text x="84.26" y="202.3" font-size="10.8" font-weight="normal" fill="#161616" stroke="#161616" stroke-width="0.3" textLength="19.18" lengthAdjust="spacingAndGlyphs">B10</text>
<rect x="38.5" y="206.5" width="105.9" height="89.0" fill="none" stroke="#161616" stroke-width="1.1"/>
<line x1="38.50" y1="295.50" x2="35.90" y2="295.50" stroke="#161616" stroke-width="0.8"/>
<line x1="38.50" y1="286.57" x2="36.70" y2="286.57" stroke="#161616" stroke-width="0.8"/>
<line x1="38.50" y1="281.35" x2="36.70" y2="281.35" stroke="#161616" stroke-width="0.8"/>
<line x1="38.50" y1="277.64" x2="36.70" y2="277.64" stroke="#161616" stroke-width="0.8"/>
<line x1="38.50" y1="274.76" x2="36.70" y2="274.76" stroke="#161616" stroke-width="0.8"/>
<line x1="38.50" y1="272.41" x2="36.70" y2="272.41" stroke="#161616" stroke-width="0.8"/>
<line x1="38.50" y1="270.43" x2="36.70" y2="270.43" stroke="#161616" stroke-width="0.8"/>
<line x1="38.50" y1="268.71" x2="36.70" y2="268.71" stroke="#161616" stroke-width="0.8"/>
<line x1="38.50" y1="267.19" x2="36.70" y2="267.19" stroke="#161616" stroke-width="0.8"/>
<line x1="38.50" y1="265.83" x2="35.90" y2="265.83" stroke="#161616" stroke-width="0.8"/>
<line x1="38.50" y1="256.90" x2="36.70" y2="256.90" stroke="#161616" stroke-width="0.8"/>
<line x1="38.50" y1="251.68" x2="36.70" y2="251.68" stroke="#161616" stroke-width="0.8"/>
<line x1="38.50" y1="247.97" x2="36.70" y2="247.97" stroke="#161616" stroke-width="0.8"/>
<line x1="38.50" y1="245.10" x2="36.70" y2="245.10" stroke="#161616" stroke-width="0.8"/>
<line x1="38.50" y1="242.75" x2="36.70" y2="242.75" stroke="#161616" stroke-width="0.8"/>
<line x1="38.50" y1="240.76" x2="36.70" y2="240.76" stroke="#161616" stroke-width="0.8"/>
<line x1="38.50" y1="239.04" x2="36.70" y2="239.04" stroke="#161616" stroke-width="0.8"/>
<line x1="38.50" y1="237.52" x2="36.70" y2="237.52" stroke="#161616" stroke-width="0.8"/>
<line x1="38.50" y1="236.17" x2="35.90" y2="236.17" stroke="#161616" stroke-width="0.8"/>
<line x1="38.50" y1="227.24" x2="36.70" y2="227.24" stroke="#161616" stroke-width="0.8"/>
<line x1="38.50" y1="222.01" x2="36.70" y2="222.01" stroke="#161616" stroke-width="0.8"/>
<line x1="38.50" y1="218.31" x2="36.70" y2="218.31" stroke="#161616" stroke-width="0.8"/>
<line x1="38.50" y1="215.43" x2="36.70" y2="215.43" stroke="#161616" stroke-width="0.8"/>
<line x1="38.50" y1="213.08" x2="36.70" y2="213.08" stroke="#161616" stroke-width="0.8"/>
<line x1="38.50" y1="211.10" x2="36.70" y2="211.10" stroke="#161616" stroke-width="0.8"/>
<line x1="38.50" y1="209.37" x2="36.70" y2="209.37" stroke="#161616" stroke-width="0.8"/>
<line x1="38.50" y1="207.86" x2="36.70" y2="207.86" stroke="#161616" stroke-width="0.8"/>
<line x1="38.50" y1="206.50" x2="35.90" y2="206.50" stroke="#161616" stroke-width="0.8"/>
<line x1="49.40" y1="200.00" x2="49.40" y2="238.60" stroke="#161616" stroke-width="1.3"/>
<path d="M45.70,236.60 L49.40,238.80 L53.10,236.60 L49.40,245.60 Z" fill="#161616"/>
<text x="18.66" y="211.4" font-size="10.8" font-weight="normal" fill="#161616" stroke="#161616" stroke-width="0.3" textLength="12.68" lengthAdjust="spacingAndGlyphs">10</text>
<text x="34.20" y="206.2" font-size="8.2" text-anchor="middle" fill="#161616" stroke="#161616" stroke-width="0.2">3</text>
<text x="14.86" y="300.9" font-size="10.8" font-weight="normal" fill="#161616" stroke="#161616" stroke-width="0.3" textLength="12.68" lengthAdjust="spacingAndGlyphs">10</text>
<text x="30.35" y="294.6" font-size="8.2" text-anchor="middle" fill="#161616" stroke="#161616" stroke-width="0.2">0</text>
<text x="-0.56" y="0" font-size="11.2" fill="#161616" stroke="#161616" stroke-width="0.3" transform="translate(14.8,287) rotate(-90)" textLength="81.32" lengthAdjust="spacingAndGlyphs">MC540 binding</text>
<line x1="38.50" y1="295.50" x2="38.50" y2="299.00" stroke="#161616" stroke-width="0.9"/>
<line x1="43.58" y1="295.50" x2="43.58" y2="297.30" stroke="#161616" stroke-width="0.9"/>
<line x1="48.66" y1="295.50" x2="48.66" y2="297.30" stroke="#161616" stroke-width="0.9"/>
<line x1="53.74" y1="295.50" x2="53.74" y2="297.30" stroke="#161616" stroke-width="0.9"/>
<line x1="58.82" y1="295.50" x2="58.82" y2="297.30" stroke="#161616" stroke-width="0.9"/>
<line x1="63.90" y1="295.50" x2="63.90" y2="299.00" stroke="#161616" stroke-width="0.9"/>
<line x1="68.98" y1="295.50" x2="68.98" y2="297.30" stroke="#161616" stroke-width="0.9"/>
<line x1="74.06" y1="295.50" x2="74.06" y2="297.30" stroke="#161616" stroke-width="0.9"/>
<line x1="79.14" y1="295.50" x2="79.14" y2="297.30" stroke="#161616" stroke-width="0.9"/>
<line x1="84.22" y1="295.50" x2="84.22" y2="297.30" stroke="#161616" stroke-width="0.9"/>
<line x1="89.30" y1="295.50" x2="89.30" y2="299.00" stroke="#161616" stroke-width="0.9"/>
<line x1="94.38" y1="295.50" x2="94.38" y2="297.30" stroke="#161616" stroke-width="0.9"/>
<line x1="99.46" y1="295.50" x2="99.46" y2="297.30" stroke="#161616" stroke-width="0.9"/>
<line x1="104.54" y1="295.50" x2="104.54" y2="297.30" stroke="#161616" stroke-width="0.9"/>
<line x1="109.62" y1="295.50" x2="109.62" y2="297.30" stroke="#161616" stroke-width="0.9"/>
<line x1="114.70" y1="295.50" x2="114.70" y2="299.00" stroke="#161616" stroke-width="0.9"/>
<line x1="119.78" y1="295.50" x2="119.78" y2="297.30" stroke="#161616" stroke-width="0.9"/>
<line x1="124.86" y1="295.50" x2="124.86" y2="297.30" stroke="#161616" stroke-width="0.9"/>
<line x1="129.94" y1="295.50" x2="129.94" y2="297.30" stroke="#161616" stroke-width="0.9"/>
<line x1="135.02" y1="295.50" x2="135.02" y2="297.30" stroke="#161616" stroke-width="0.9"/>
<line x1="140.10" y1="295.50" x2="140.10" y2="299.00" stroke="#161616" stroke-width="0.9"/>
<text x="35.06" y="309.8" font-size="10.8" font-weight="normal" fill="#161616" stroke="#161616" stroke-width="0.3" textLength="6.48" lengthAdjust="spacingAndGlyphs">0</text>
<text x="129.26" y="309.8" font-size="10.8" font-weight="normal" fill="#161616" stroke="#161616" stroke-width="0.3" textLength="17.28" lengthAdjust="spacingAndGlyphs">400</text>
<text x="65.96" y="313.8" font-size="10.8" font-weight="normal" fill="#161616" stroke="#161616" stroke-width="0.3" textLength="39.38" lengthAdjust="spacingAndGlyphs">Time (s)</text>
<text x="168.47" y="193.1" font-size="10.6" font-weight="normal" fill="#161616" stroke="#161616" stroke-width="0.3" textLength="53.56" lengthAdjust="spacingAndGlyphs">calcimycin</text>
<text x="223.96" y="202.2" font-size="10.8" font-weight="normal" fill="#161616" stroke="#161616" stroke-width="0.3" textLength="24.98" lengthAdjust="spacingAndGlyphs">NOD</text>
<rect x="178.3" y="206.7" width="106.80000000000001" height="89.10000000000002" fill="none" stroke="#161616" stroke-width="1.1"/>
<line x1="178.30" y1="295.80" x2="175.70" y2="295.80" stroke="#161616" stroke-width="0.8"/>
<line x1="178.30" y1="286.86" x2="176.50" y2="286.86" stroke="#161616" stroke-width="0.8"/>
<line x1="178.30" y1="281.63" x2="176.50" y2="281.63" stroke="#161616" stroke-width="0.8"/>
<line x1="178.30" y1="277.92" x2="176.50" y2="277.92" stroke="#161616" stroke-width="0.8"/>
<line x1="178.30" y1="275.04" x2="176.50" y2="275.04" stroke="#161616" stroke-width="0.8"/>
<line x1="178.30" y1="272.69" x2="176.50" y2="272.69" stroke="#161616" stroke-width="0.8"/>
<line x1="178.30" y1="270.70" x2="176.50" y2="270.70" stroke="#161616" stroke-width="0.8"/>
<line x1="178.30" y1="268.98" x2="176.50" y2="268.98" stroke="#161616" stroke-width="0.8"/>
<line x1="178.30" y1="267.46" x2="176.50" y2="267.46" stroke="#161616" stroke-width="0.8"/>
<line x1="178.30" y1="266.10" x2="175.70" y2="266.10" stroke="#161616" stroke-width="0.8"/>
<line x1="178.30" y1="257.16" x2="176.50" y2="257.16" stroke="#161616" stroke-width="0.8"/>
<line x1="178.30" y1="251.93" x2="176.50" y2="251.93" stroke="#161616" stroke-width="0.8"/>
<line x1="178.30" y1="248.22" x2="176.50" y2="248.22" stroke="#161616" stroke-width="0.8"/>
<line x1="178.30" y1="245.34" x2="176.50" y2="245.34" stroke="#161616" stroke-width="0.8"/>
<line x1="178.30" y1="242.99" x2="176.50" y2="242.99" stroke="#161616" stroke-width="0.8"/>
<line x1="178.30" y1="241.00" x2="176.50" y2="241.00" stroke="#161616" stroke-width="0.8"/>
<line x1="178.30" y1="239.28" x2="176.50" y2="239.28" stroke="#161616" stroke-width="0.8"/>
<line x1="178.30" y1="237.76" x2="176.50" y2="237.76" stroke="#161616" stroke-width="0.8"/>
<line x1="178.30" y1="236.40" x2="175.70" y2="236.40" stroke="#161616" stroke-width="0.8"/>
<line x1="178.30" y1="227.46" x2="176.50" y2="227.46" stroke="#161616" stroke-width="0.8"/>
<line x1="178.30" y1="222.23" x2="176.50" y2="222.23" stroke="#161616" stroke-width="0.8"/>
<line x1="178.30" y1="218.52" x2="176.50" y2="218.52" stroke="#161616" stroke-width="0.8"/>
<line x1="178.30" y1="215.64" x2="176.50" y2="215.64" stroke="#161616" stroke-width="0.8"/>
<line x1="178.30" y1="213.29" x2="176.50" y2="213.29" stroke="#161616" stroke-width="0.8"/>
<line x1="178.30" y1="211.30" x2="176.50" y2="211.30" stroke="#161616" stroke-width="0.8"/>
<line x1="178.30" y1="209.58" x2="176.50" y2="209.58" stroke="#161616" stroke-width="0.8"/>
<line x1="178.30" y1="208.06" x2="176.50" y2="208.06" stroke="#161616" stroke-width="0.8"/>
<line x1="178.30" y1="206.70" x2="175.70" y2="206.70" stroke="#161616" stroke-width="0.8"/>
<line x1="189.40" y1="201.30" x2="189.40" y2="239.30" stroke="#161616" stroke-width="1.3"/>
<path d="M185.70,237.30 L189.40,239.50 L193.10,237.30 L189.40,246.30 Z" fill="#161616"/>
<text x="157.66" y="212.3" font-size="10.8" font-weight="normal" fill="#161616" stroke="#161616" stroke-width="0.3" textLength="12.58" lengthAdjust="spacingAndGlyphs">10</text>
<text x="172.95" y="206.1" font-size="8.2" text-anchor="middle" fill="#161616" stroke="#161616" stroke-width="0.2">3</text>
<text x="156.66" y="297.6" font-size="10.8" font-weight="normal" fill="#161616" stroke="#161616" stroke-width="0.3" textLength="13.38" lengthAdjust="spacingAndGlyphs">10</text>
<text x="172.65" y="292.1" font-size="8.2" text-anchor="middle" fill="#161616" stroke="#161616" stroke-width="0.2">0</text>
<line x1="178.30" y1="295.80" x2="178.30" y2="299.30" stroke="#161616" stroke-width="0.9"/>
<line x1="183.32" y1="295.80" x2="183.32" y2="297.60" stroke="#161616" stroke-width="0.9"/>
<line x1="188.34" y1="295.80" x2="188.34" y2="297.60" stroke="#161616" stroke-width="0.9"/>
<line x1="193.36" y1="295.80" x2="193.36" y2="297.60" stroke="#161616" stroke-width="0.9"/>
<line x1="198.38" y1="295.80" x2="198.38" y2="297.60" stroke="#161616" stroke-width="0.9"/>
<line x1="203.40" y1="295.80" x2="203.40" y2="299.30" stroke="#161616" stroke-width="0.9"/>
<line x1="208.42" y1="295.80" x2="208.42" y2="297.60" stroke="#161616" stroke-width="0.9"/>
<line x1="213.44" y1="295.80" x2="213.44" y2="297.60" stroke="#161616" stroke-width="0.9"/>
<line x1="218.46" y1="295.80" x2="218.46" y2="297.60" stroke="#161616" stroke-width="0.9"/>
<line x1="223.48" y1="295.80" x2="223.48" y2="297.60" stroke="#161616" stroke-width="0.9"/>
<line x1="228.50" y1="295.80" x2="228.50" y2="299.30" stroke="#161616" stroke-width="0.9"/>
<line x1="233.52" y1="295.80" x2="233.52" y2="297.60" stroke="#161616" stroke-width="0.9"/>
<line x1="238.54" y1="295.80" x2="238.54" y2="297.60" stroke="#161616" stroke-width="0.9"/>
<line x1="243.56" y1="295.80" x2="243.56" y2="297.60" stroke="#161616" stroke-width="0.9"/>
<line x1="248.58" y1="295.80" x2="248.58" y2="297.60" stroke="#161616" stroke-width="0.9"/>
<line x1="253.60" y1="295.80" x2="253.60" y2="299.30" stroke="#161616" stroke-width="0.9"/>
<line x1="258.62" y1="295.80" x2="258.62" y2="297.60" stroke="#161616" stroke-width="0.9"/>
<line x1="263.64" y1="295.80" x2="263.64" y2="297.60" stroke="#161616" stroke-width="0.9"/>
<line x1="268.66" y1="295.80" x2="268.66" y2="297.60" stroke="#161616" stroke-width="0.9"/>
<line x1="273.68" y1="295.80" x2="273.68" y2="297.60" stroke="#161616" stroke-width="0.9"/>
<line x1="278.70" y1="295.80" x2="278.70" y2="299.30" stroke="#161616" stroke-width="0.9"/>
<line x1="283.72" y1="295.80" x2="283.72" y2="297.60" stroke="#161616" stroke-width="0.9"/>
<text x="175.86" y="310.8" font-size="10.8" font-weight="normal" fill="#161616" stroke="#161616" stroke-width="0.3" textLength="6.48" lengthAdjust="spacingAndGlyphs">0</text>
<text x="269.26" y="311" font-size="10.8" font-weight="normal" fill="#161616" stroke="#161616" stroke-width="0.3" textLength="17.28" lengthAdjust="spacingAndGlyphs">400</text>
<text x="205.96" y="314.5" font-size="10.8" font-weight="normal" fill="#161616" stroke="#161616" stroke-width="0.3" textLength="38.78" lengthAdjust="spacingAndGlyphs">Time (s)</text>
<text x="319.37" y="191.6" font-size="10.6" font-weight="normal" fill="#161616" stroke="#161616" stroke-width="0.3" textLength="53.06" lengthAdjust="spacingAndGlyphs">calcimycin</text>
<rect x="330.3" y="203.3" width="106.5" height="92.09999999999997" fill="none" stroke="#161616" stroke-width="1.1"/>
<line x1="330.30" y1="295.40" x2="328.00" y2="295.40" stroke="#161616" stroke-width="0.8"/>
<line x1="330.30" y1="277.22" x2="328.00" y2="277.22" stroke="#161616" stroke-width="0.8"/>
<line x1="330.30" y1="259.04" x2="328.00" y2="259.04" stroke="#161616" stroke-width="0.8"/>
<line x1="330.30" y1="240.86" x2="328.00" y2="240.86" stroke="#161616" stroke-width="0.8"/>
<line x1="330.30" y1="222.68" x2="328.00" y2="222.68" stroke="#161616" stroke-width="0.8"/>
<line x1="330.30" y1="204.50" x2="328.00" y2="204.50" stroke="#161616" stroke-width="0.8"/>
<line x1="340.40" y1="199.60" x2="340.40" y2="238.00" stroke="#161616" stroke-width="1.3"/>
<path d="M336.70,236.00 L340.40,238.20 L344.10,236.00 L340.40,245.00 Z" fill="#161616"/>
<text x="307.96" y="208.1" font-size="10.8" font-weight="normal" fill="#161616" stroke="#161616" stroke-width="0.3" textLength="16.78" lengthAdjust="spacingAndGlyphs">100</text>
<text x="315.26" y="297.7" font-size="10.8" font-weight="normal" fill="#161616" stroke="#161616" stroke-width="0.3" textLength="7.18" lengthAdjust="spacingAndGlyphs">0</text>
<text x="-0.55" y="0" font-size="11" fill="#161616" stroke="#161616" stroke-width="0.3" transform="translate(312.7,292.3) rotate(-90)" textLength="47.90" lengthAdjust="spacingAndGlyphs">% MC540</text>
<text x="-0.44" y="0" font-size="8.8" fill="#161616" stroke="#161616" stroke-width="0.3" transform="translate(304.4,243.3) rotate(-90)" textLength="8.98" lengthAdjust="spacingAndGlyphs">hi</text>
<text x="-0.55" y="0" font-size="11" fill="#161616" stroke="#161616" stroke-width="0.3" transform="translate(312.2,234.2) rotate(-90)" textLength="22.60" lengthAdjust="spacingAndGlyphs">cells</text>
<line x1="330.30" y1="295.40" x2="330.30" y2="298.90" stroke="#161616" stroke-width="0.9"/>
<line x1="335.20" y1="295.40" x2="335.20" y2="297.20" stroke="#161616" stroke-width="0.9"/>
<line x1="340.10" y1="295.40" x2="340.10" y2="297.20" stroke="#161616" stroke-width="0.9"/>
<line x1="345.00" y1="295.40" x2="345.00" y2="297.20" stroke="#161616" stroke-width="0.9"/>
<line x1="349.90" y1="295.40" x2="349.90" y2="297.20" stroke="#161616" stroke-width="0.9"/>
<line x1="354.80" y1="295.40" x2="354.80" y2="298.90" stroke="#161616" stroke-width="0.9"/>
<line x1="359.70" y1="295.40" x2="359.70" y2="297.20" stroke="#161616" stroke-width="0.9"/>
<line x1="364.60" y1="295.40" x2="364.60" y2="297.20" stroke="#161616" stroke-width="0.9"/>
<line x1="369.50" y1="295.40" x2="369.50" y2="297.20" stroke="#161616" stroke-width="0.9"/>
<line x1="374.40" y1="295.40" x2="374.40" y2="297.20" stroke="#161616" stroke-width="0.9"/>
<line x1="379.30" y1="295.40" x2="379.30" y2="298.90" stroke="#161616" stroke-width="0.9"/>
<line x1="384.20" y1="295.40" x2="384.20" y2="297.20" stroke="#161616" stroke-width="0.9"/>
<line x1="389.10" y1="295.40" x2="389.10" y2="297.20" stroke="#161616" stroke-width="0.9"/>
<line x1="394.00" y1="295.40" x2="394.00" y2="297.20" stroke="#161616" stroke-width="0.9"/>
<line x1="398.90" y1="295.40" x2="398.90" y2="297.20" stroke="#161616" stroke-width="0.9"/>
<line x1="403.80" y1="295.40" x2="403.80" y2="298.90" stroke="#161616" stroke-width="0.9"/>
<line x1="408.70" y1="295.40" x2="408.70" y2="297.20" stroke="#161616" stroke-width="0.9"/>
<line x1="413.60" y1="295.40" x2="413.60" y2="297.20" stroke="#161616" stroke-width="0.9"/>
<line x1="418.50" y1="295.40" x2="418.50" y2="297.20" stroke="#161616" stroke-width="0.9"/>
<line x1="423.40" y1="295.40" x2="423.40" y2="297.20" stroke="#161616" stroke-width="0.9"/>
<line x1="428.30" y1="295.40" x2="428.30" y2="298.90" stroke="#161616" stroke-width="0.9"/>
<line x1="433.20" y1="295.40" x2="433.20" y2="297.20" stroke="#161616" stroke-width="0.9"/>
<text x="323.86" y="307.7" font-size="10.8" font-weight="normal" fill="#161616" stroke="#161616" stroke-width="0.3" textLength="7.08" lengthAdjust="spacingAndGlyphs">0</text>
<text x="423.36" y="310.5" font-size="10.8" font-weight="normal" fill="#161616" stroke="#161616" stroke-width="0.3" textLength="17.08" lengthAdjust="spacingAndGlyphs">400</text>
<text x="359.06" y="313.6" font-size="10.8" font-weight="normal" fill="#161616" stroke="#161616" stroke-width="0.3" textLength="38.38" lengthAdjust="spacingAndGlyphs">Time (s)</text>
<text x="440.76" y="214.7" font-size="10.8" font-weight="normal" fill="#161616" stroke="#161616" stroke-width="0.3" textLength="25.28" lengthAdjust="spacingAndGlyphs">NOD</text>
<text x="441.66" y="241" font-size="10.8" font-weight="normal" fill="#161616" stroke="#161616" stroke-width="0.3" textLength="19.48" lengthAdjust="spacingAndGlyphs">B10</text>
<path d="M330.8,292.3 L331.9,293.9 L333.0,293.8 L334.1,291.9 L335.2,292.2 L336.3,292.0 L337.4,293.4 L338.5,292.7 L339.6,293.7 L340.7,290.9 L341.8,294.5 L342.9,292.2 L344.0,292.7 L345.1,291.3 L346.2,290.6 L347.3,291.1 L348.4,291.1 L349.5,289.4 L350.6,289.0 L351.7,289.4 L352.8,287.1 L353.9,285.6 L355.0,287.1 L356.1,285.1 L357.2,282.9 L358.3,283.8 L359.4,284.7 L360.5,284.4 L361.6,283.6 L362.7,284.1 L363.8,283.8 L364.9,282.3 L366.0,282.0 L367.1,283.7 L368.2,284.4 L369.3,283.2 L370.4,283.4 L371.5,283.3 L372.6,281.1 L373.7,279.7 L374.8,280.4 L375.9,280.0 L377.0,280.7 L378.1,277.7 L379.2,278.1 L380.3,277.3 L381.4,275.7 L382.5,277.2 L383.6,277.1 L384.7,274.9 L385.8,276.4 L386.9,274.8 L388.0,273.6 L389.1,272.4 L390.2,272.2 L391.3,268.8 L392.4,270.3 L393.5,269.5 L394.6,265.8 L395.7,267.3 L396.8,265.6 L397.9,265.9 L399.0,263.5 L400.1,263.2 L401.2,262.8 L402.3,260.6 L403.4,261.4 L404.5,259.7 L405.6,259.5 L406.7,257.5 L407.8,258.4 L408.9,257.0 L410.0,255.2 L411.1,255.3 L412.2,255.2 L413.3,255.0 L414.4,250.2 L415.5,252.1 L416.6,250.7 L417.7,249.1 L418.8,247.2 L419.9,249.0 L421.0,245.2 L422.1,246.5 L423.2,246.3 L424.3,241.7 L425.4,241.9 L426.5,239.5 L427.6,240.0 L428.7,240.1 L429.8,241.3 L430.9,237.5 L432.0,239.4 L433.1,240.5 L434.2,240.1 L435.3,237.3 L436.3,234.6" fill="none" stroke="#8aa0f0" stroke-width="2.8" stroke-linejoin="round" opacity="0.35"/>
<path d="M330.8,292.3 L331.9,293.9 L333.0,293.8 L334.1,291.9 L335.2,292.2 L336.3,292.0 L337.4,293.4 L338.5,292.7 L339.6,293.7 L340.7,290.9 L341.8,294.5 L342.9,292.2 L344.0,292.7 L345.1,291.3 L346.2,290.6 L347.3,291.1 L348.4,291.1 L349.5,289.4 L350.6,289.0 L351.7,289.4 L352.8,287.1 L353.9,285.6 L355.0,287.1 L356.1,285.1 L357.2,282.9 L358.3,283.8 L359.4,284.7 L360.5,284.4 L361.6,283.6 L362.7,284.1 L363.8,283.8 L364.9,282.3 L366.0,282.0 L367.1,283.7 L368.2,284.4 L369.3,283.2 L370.4,283.4 L371.5,283.3 L372.6,281.1 L373.7,279.7 L374.8,280.4 L375.9,280.0 L377.0,280.7 L378.1,277.7 L379.2,278.1 L380.3,277.3 L381.4,275.7 L382.5,277.2 L383.6,277.1 L384.7,274.9 L385.8,276.4 L386.9,274.8 L388.0,273.6 L389.1,272.4 L390.2,272.2 L391.3,268.8 L392.4,270.3 L393.5,269.5 L394.6,265.8 L395.7,267.3 L396.8,265.6 L397.9,265.9 L399.0,263.5 L400.1,263.2 L401.2,262.8 L402.3,260.6 L403.4,261.4 L404.5,259.7 L405.6,259.5 L406.7,257.5 L407.8,258.4 L408.9,257.0 L410.0,255.2 L411.1,255.3 L412.2,255.2 L413.3,255.0 L414.4,250.2 L415.5,252.1 L416.6,250.7 L417.7,249.1 L418.8,247.2 L419.9,249.0 L421.0,245.2 L422.1,246.5 L423.2,246.3 L424.3,241.7 L425.4,241.9 L426.5,239.5 L427.6,240.0 L428.7,240.1 L429.8,241.3 L430.9,237.5 L432.0,239.4 L433.1,240.5 L434.2,240.1 L435.3,237.3 L436.3,234.6" fill="none" stroke="#2c52d2" stroke-width="1.2" stroke-linejoin="round"/>
<path d="M330.8,288.5 L331.9,288.0 L333.0,285.9 L334.1,284.8 L335.2,285.1 L336.3,282.9 L337.4,283.6 L338.5,281.0 L339.6,280.7 L340.7,283.5 L341.8,283.7 L342.9,285.5 L344.0,283.7 L345.1,285.7 L346.2,283.6 L347.3,285.9 L348.4,283.7 L349.5,282.7 L350.6,280.2 L351.7,279.6 L352.8,278.2 L353.9,275.6 L355.0,274.0 L356.1,273.1 L357.2,271.2 L358.3,269.8 L359.4,268.2 L360.5,265.8 L361.6,267.3 L362.7,267.0 L363.8,271.0 L364.9,266.2 L366.0,263.3 L367.1,259.9 L368.2,258.9 L369.3,256.1 L370.4,253.8 L371.5,249.9 L372.6,247.5 L373.7,251.2 L374.8,251.2 L375.9,246.7 L377.0,245.1 L378.1,241.1 L379.2,239.2 L380.3,236.5 L381.4,232.9 L382.5,228.7 L383.6,228.8 L384.7,228.5 L385.8,226.0 L386.9,225.7 L388.0,225.2 L389.1,222.3 L390.2,223.3 L391.3,223.0 L392.4,221.6 L393.5,220.9 L394.6,220.0 L395.7,220.7 L396.8,217.5 L397.9,216.5 L399.0,216.5 L400.1,214.1 L401.2,212.9 L402.3,213.3 L403.4,214.4 L404.5,214.1 L405.6,211.3 L406.7,210.6 L407.8,212.2 L408.9,212.1 L410.0,212.1 L411.1,212.7 L412.2,213.1 L413.3,211.7 L414.4,211.7 L415.5,209.2 L416.6,208.7 L417.7,209.9 L418.8,210.2 L419.9,210.1 L421.0,209.8 L422.1,209.9 L423.2,209.9 L424.3,207.0 L425.4,208.3 L426.5,209.9 L427.6,210.2 L428.7,207.9 L429.8,211.4 L430.9,209.8 L432.0,210.4 L433.1,211.1 L434.2,211.5 L435.3,208.8 L436.3,211.6" fill="none" stroke="#f08898" stroke-width="2.8" stroke-linejoin="round" opacity="0.35"/>
<path d="M330.8,288.5 L331.9,288.0 L333.0,285.9 L334.1,284.8 L335.2,285.1 L336.3,282.9 L337.4,283.6 L338.5,281.0 L339.6,280.7 L340.7,283.5 L341.8,283.7 L342.9,285.5 L344.0,283.7 L345.1,285.7 L346.2,283.6 L347.3,285.9 L348.4,283.7 L349.5,282.7 L350.6,280.2 L351.7,279.6 L352.8,278.2 L353.9,275.6 L355.0,274.0 L356.1,273.1 L357.2,271.2 L358.3,269.8 L359.4,268.2 L360.5,265.8 L361.6,267.3 L362.7,267.0 L363.8,271.0 L364.9,266.2 L366.0,263.3 L367.1,259.9 L368.2,258.9 L369.3,256.1 L370.4,253.8 L371.5,249.9 L372.6,247.5 L373.7,251.2 L374.8,251.2 L375.9,246.7 L377.0,245.1 L378.1,241.1 L379.2,239.2 L380.3,236.5 L381.4,232.9 L382.5,228.7 L383.6,228.8 L384.7,228.5 L385.8,226.0 L386.9,225.7 L388.0,225.2 L389.1,222.3 L390.2,223.3 L391.3,223.0 L392.4,221.6 L393.5,220.9 L394.6,220.0 L395.7,220.7 L396.8,217.5 L397.9,216.5 L399.0,216.5 L400.1,214.1 L401.2,212.9 L402.3,213.3 L403.4,214.4 L404.5,214.1 L405.6,211.3 L406.7,210.6 L407.8,212.2 L408.9,212.1 L410.0,212.1 L411.1,212.7 L412.2,213.1 L413.3,211.7 L414.4,211.7 L415.5,209.2 L416.6,208.7 L417.7,209.9 L418.8,210.2 L419.9,210.1 L421.0,209.8 L422.1,209.9 L423.2,209.9 L424.3,207.0 L425.4,208.3 L426.5,209.9 L427.6,210.2 L428.7,207.9 L429.8,211.4 L430.9,209.8 L432.0,210.4 L433.1,211.1 L434.2,211.5 L435.3,208.8 L436.3,211.6" fill="none" stroke="#d8283c" stroke-width="1.2" stroke-linejoin="round"/>
<text x="7.3" y="348.7" font-size="23.7" font-weight="bold" fill="#0c0c0c" letter-spacing="0.6">ii</text>
<text x="76.96" y="348.7" font-size="10.8" font-weight="normal" fill="#161616" stroke="#161616" stroke-width="0.3" textLength="23.58" lengthAdjust="spacingAndGlyphs">t = 0</text>
<rect x="36.3" y="356.4" width="107.3" height="83.80000000000001" fill="none" stroke="#161616" stroke-width="1.1"/>
<line x1="36.30" y1="440.20" x2="33.50" y2="440.20" stroke="#161616" stroke-width="0.9"/>
<line x1="36.30" y1="436.01" x2="34.30" y2="436.01" stroke="#161616" stroke-width="0.9"/>
<line x1="36.30" y1="431.82" x2="34.30" y2="431.82" stroke="#161616" stroke-width="0.9"/>
<line x1="36.30" y1="427.63" x2="34.30" y2="427.63" stroke="#161616" stroke-width="0.9"/>
<line x1="36.30" y1="423.44" x2="34.30" y2="423.44" stroke="#161616" stroke-width="0.9"/>
<line x1="36.30" y1="419.25" x2="33.50" y2="419.25" stroke="#161616" stroke-width="0.9"/>
<line x1="36.30" y1="415.06" x2="34.30" y2="415.06" stroke="#161616" stroke-width="0.9"/>
<line x1="36.30" y1="410.87" x2="34.30" y2="410.87" stroke="#161616" stroke-width="0.9"/>
<line x1="36.30" y1="406.68" x2="34.30" y2="406.68" stroke="#161616" stroke-width="0.9"/>
<line x1="36.30" y1="402.49" x2="34.30" y2="402.49" stroke="#161616" stroke-width="0.9"/>
<line x1="36.30" y1="398.30" x2="33.50" y2="398.30" stroke="#161616" stroke-width="0.9"/>
<line x1="36.30" y1="394.11" x2="34.30" y2="394.11" stroke="#161616" stroke-width="0.9"/>
<line x1="36.30" y1="389.92" x2="34.30" y2="389.92" stroke="#161616" stroke-width="0.9"/>
<line x1="36.30" y1="385.73" x2="34.30" y2="385.73" stroke="#161616" stroke-width="0.9"/>
<line x1="36.30" y1="381.54" x2="34.30" y2="381.54" stroke="#161616" stroke-width="0.9"/>
<line x1="36.30" y1="377.35" x2="33.50" y2="377.35" stroke="#161616" stroke-width="0.9"/>
<line x1="36.30" y1="373.16" x2="34.30" y2="373.16" stroke="#161616" stroke-width="0.9"/>
<line x1="36.30" y1="368.97" x2="34.30" y2="368.97" stroke="#161616" stroke-width="0.9"/>
<line x1="36.30" y1="364.78" x2="34.30" y2="364.78" stroke="#161616" stroke-width="0.9"/>
<line x1="36.30" y1="360.59" x2="34.30" y2="360.59" stroke="#161616" stroke-width="0.9"/>
<line x1="36.30" y1="356.40" x2="33.50" y2="356.40" stroke="#161616" stroke-width="0.9"/>
<line x1="36.30" y1="440.20" x2="36.30" y2="443.00" stroke="#161616" stroke-width="0.9"/>
<line x1="44.38" y1="440.20" x2="44.38" y2="442.20" stroke="#161616" stroke-width="0.9"/>
<line x1="49.10" y1="440.20" x2="49.10" y2="442.20" stroke="#161616" stroke-width="0.9"/>
<line x1="52.45" y1="440.20" x2="52.45" y2="442.20" stroke="#161616" stroke-width="0.9"/>
<line x1="55.05" y1="440.20" x2="55.05" y2="442.20" stroke="#161616" stroke-width="0.9"/>
<line x1="57.17" y1="440.20" x2="57.17" y2="442.20" stroke="#161616" stroke-width="0.9"/>
<line x1="58.97" y1="440.20" x2="58.97" y2="442.20" stroke="#161616" stroke-width="0.9"/>
<line x1="60.53" y1="440.20" x2="60.53" y2="442.20" stroke="#161616" stroke-width="0.9"/>
<line x1="61.90" y1="440.20" x2="61.90" y2="442.20" stroke="#161616" stroke-width="0.9"/>
<line x1="63.12" y1="440.20" x2="63.12" y2="443.00" stroke="#161616" stroke-width="0.9"/>
<line x1="71.20" y1="440.20" x2="71.20" y2="442.20" stroke="#161616" stroke-width="0.9"/>
<line x1="75.92" y1="440.20" x2="75.92" y2="442.20" stroke="#161616" stroke-width="0.9"/>
<line x1="79.28" y1="440.20" x2="79.28" y2="442.20" stroke="#161616" stroke-width="0.9"/>
<line x1="81.87" y1="440.20" x2="81.87" y2="442.20" stroke="#161616" stroke-width="0.9"/>
<line x1="84.00" y1="440.20" x2="84.00" y2="442.20" stroke="#161616" stroke-width="0.9"/>
<line x1="85.79" y1="440.20" x2="85.79" y2="442.20" stroke="#161616" stroke-width="0.9"/>
<line x1="87.35" y1="440.20" x2="87.35" y2="442.20" stroke="#161616" stroke-width="0.9"/>
<line x1="88.72" y1="440.20" x2="88.72" y2="442.20" stroke="#161616" stroke-width="0.9"/>
<line x1="89.95" y1="440.20" x2="89.95" y2="443.00" stroke="#161616" stroke-width="0.9"/>
<line x1="98.03" y1="440.20" x2="98.03" y2="442.20" stroke="#161616" stroke-width="0.9"/>
<line x1="102.75" y1="440.20" x2="102.75" y2="442.20" stroke="#161616" stroke-width="0.9"/>
<line x1="106.10" y1="440.20" x2="106.10" y2="442.20" stroke="#161616" stroke-width="0.9"/>
<line x1="108.70" y1="440.20" x2="108.70" y2="442.20" stroke="#161616" stroke-width="0.9"/>
<line x1="110.82" y1="440.20" x2="110.82" y2="442.20" stroke="#161616" stroke-width="0.9"/>
<line x1="112.62" y1="440.20" x2="112.62" y2="442.20" stroke="#161616" stroke-width="0.9"/>
<line x1="114.18" y1="440.20" x2="114.18" y2="442.20" stroke="#161616" stroke-width="0.9"/>
<line x1="115.55" y1="440.20" x2="115.55" y2="442.20" stroke="#161616" stroke-width="0.9"/>
<line x1="116.77" y1="440.20" x2="116.77" y2="443.00" stroke="#161616" stroke-width="0.9"/>
<line x1="124.85" y1="440.20" x2="124.85" y2="442.20" stroke="#161616" stroke-width="0.9"/>
<line x1="129.57" y1="440.20" x2="129.57" y2="442.20" stroke="#161616" stroke-width="0.9"/>
<line x1="132.93" y1="440.20" x2="132.93" y2="442.20" stroke="#161616" stroke-width="0.9"/>
<line x1="135.52" y1="440.20" x2="135.52" y2="442.20" stroke="#161616" stroke-width="0.9"/>
<line x1="137.65" y1="440.20" x2="137.65" y2="442.20" stroke="#161616" stroke-width="0.9"/>
<line x1="139.44" y1="440.20" x2="139.44" y2="442.20" stroke="#161616" stroke-width="0.9"/>
<line x1="141.00" y1="440.20" x2="141.00" y2="442.20" stroke="#161616" stroke-width="0.9"/>
<line x1="142.37" y1="440.20" x2="142.37" y2="442.20" stroke="#161616" stroke-width="0.9"/>
<line x1="143.60" y1="440.20" x2="143.60" y2="443.00" stroke="#161616" stroke-width="0.9"/>
<text x="-0.55" y="0" font-size="11" fill="#161616" stroke="#161616" stroke-width="0.3" transform="translate(13.9,438.3) rotate(-90)" textLength="81.10" lengthAdjust="spacingAndGlyphs">Relative number</text>
<text x="-0.55" y="0" font-size="11" fill="#161616" stroke="#161616" stroke-width="0.3" transform="translate(28.7,415.7) rotate(-90)" textLength="36.20" lengthAdjust="spacingAndGlyphs">of cells</text>
<text x="26.16" y="457.9" font-size="10.8" font-weight="normal" fill="#161616" stroke="#161616" stroke-width="0.3" textLength="12.68" lengthAdjust="spacingAndGlyphs">10</text>
<text x="41.25" y="451.6" font-size="8.2" text-anchor="middle" fill="#161616" stroke="#161616" stroke-width="0.2">0</text>
<text x="51.26" y="459.6" font-size="10.8" font-weight="normal" fill="#161616" stroke="#161616" stroke-width="0.3" textLength="76.98" lengthAdjust="spacingAndGlyphs">MC540 binding</text>
<text x="135.26" y="457.3" font-size="10.8" font-weight="normal" fill="#161616" stroke="#161616" stroke-width="0.3" textLength="11.78" lengthAdjust="spacingAndGlyphs">10</text>
<text x="149.50" y="451" font-size="8.2" text-anchor="middle" fill="#161616" stroke="#161616" stroke-width="0.2">4</text>
<text x="96.46" y="374" font-size="10.8" font-weight="normal" fill="#161616" stroke="#161616" stroke-width="0.3" textLength="24.88" lengthAdjust="spacingAndGlyphs">NOD</text>
<text x="96.46" y="386.8" font-size="10.8" font-weight="normal" fill="#161616" stroke="#161616" stroke-width="0.3" textLength="23.98" lengthAdjust="spacingAndGlyphs">(red)</text>
<line x1="66.70" y1="390.90" x2="88.90" y2="375.40" stroke="#161616" stroke-width="1.2"/>
<path d="M36.8,425.1 H37.6 V418.6 H38.4 V423.9 H39.2 V413.0 H40.0 V415.7 H40.8 V412.7 H41.6 V416.2 H42.4 V410.4 H43.2 V407.9 H44.0 V398.3 H44.8 V397.9 H45.6 V389.3 H46.4 V393.8 H47.2 V378.6 H48.0 V387.8 H48.8 V369.5 H49.6 V375.9 H50.4 V356.4 H51.2 V363.2 H52.0 V356.4 H52.8 V361.5 H53.6 V358.6 H54.4 V365.2 H55.2 V365.3 H56.0 V371.5 H56.8 V374.4 H57.6 V384.0 H58.4 V382.2 H59.2 V395.8 H60.0 V396.1 H60.8 V404.1 H61.6 V405.1 H62.4 V416.5 H63.2 V416.4 H64.0 V424.7 H64.8 V427.1 H65.6 V428.9 H66.4 V427.8 H67.2 V430.2 H68.0 V428.8 H68.8 V429.8 H69.6 V427.5 H70.4 V429.8 H71.2 V428.4 H72.0 V432.2 H72.8 V430.8 H73.6 V434.1 H74.4 V432.7 H75.2 V433.7 H76.0 V433.9 H76.8 V434.4 H77.6 V432.2 H78.4 V435.7 H79.2 V432.1 H80.0 V435.3 H80.8 V431.6 H81.6 V434.9 H82.4 V433.8 H83.2 V434.3 H84.0 V432.8 H84.8 V434.9 H85.6 V433.7 H86.4 V434.5 H87.2 V432.5 H88.0 V434.1 H88.8 V431.6 H89.6 V432.6 H90.4 V432.1 H91.2 V431.8 H92.0 V430.6 H92.8 V431.8 H93.6 V429.4 H94.4 V432.5 H95.2 V431.7 H96.0 V432.5 H96.8 V432.4 H97.6 V433.8 H98.4 V431.5 H99.2 V434.2 H100.0 V433.7 H100.8 V434.9 H101.6 V434.0 H102.4 V436.9 H103.2 V434.8 H104.0 V437.0 H104.8 V436.5 H105.6 V437.7 H106.4 V436.5 H107.2 V438.2 H108.0 V438.0 H108.8 V439.7 H109.6 V438.4 H110.4 V439.3 H111.2 V439.0 H112.0 V439.7 V439.7 H143.0" fill="none" stroke="#8aa0f0" stroke-width="2.05" stroke-linejoin="round" opacity="0.18"/>
<path d="M36.8,425.1 H37.6 V418.6 H38.4 V423.9 H39.2 V413.0 H40.0 V415.7 H40.8 V412.7 H41.6 V416.2 H42.4 V410.4 H43.2 V407.9 H44.0 V398.3 H44.8 V397.9 H45.6 V389.3 H46.4 V393.8 H47.2 V378.6 H48.0 V387.8 H48.8 V369.5 H49.6 V375.9 H50.4 V356.4 H51.2 V363.2 H52.0 V356.4 H52.8 V361.5 H53.6 V358.6 H54.4 V365.2 H55.2 V365.3 H56.0 V371.5 H56.8 V374.4 H57.6 V384.0 H58.4 V382.2 H59.2 V395.8 H60.0 V396.1 H60.8 V404.1 H61.6 V405.1 H62.4 V416.5 H63.2 V416.4 H64.0 V424.7 H64.8 V427.1 H65.6 V428.9 H66.4 V427.8 H67.2 V430.2 H68.0 V428.8 H68.8 V429.8 H69.6 V427.5 H70.4 V429.8 H71.2 V428.4 H72.0 V432.2 H72.8 V430.8 H73.6 V434.1 H74.4 V432.7 H75.2 V433.7 H76.0 V433.9 H76.8 V434.4 H77.6 V432.2 H78.4 V435.7 H79.2 V432.1 H80.0 V435.3 H80.8 V431.6 H81.6 V434.9 H82.4 V433.8 H83.2 V434.3 H84.0 V432.8 H84.8 V434.9 H85.6 V433.7 H86.4 V434.5 H87.2 V432.5 H88.0 V434.1 H88.8 V431.6 H89.6 V432.6 H90.4 V432.1 H91.2 V431.8 H92.0 V430.6 H92.8 V431.8 H93.6 V429.4 H94.4 V432.5 H95.2 V431.7 H96.0 V432.5 H96.8 V432.4 H97.6 V433.8 H98.4 V431.5 H99.2 V434.2 H100.0 V433.7 H100.8 V434.9 H101.6 V434.0 H102.4 V436.9 H103.2 V434.8 H104.0 V437.0 H104.8 V436.5 H105.6 V437.7 H106.4 V436.5 H107.2 V438.2 H108.0 V438.0 H108.8 V439.7 H109.6 V438.4 H110.4 V439.3 H111.2 V439.0 H112.0 V439.7 V439.7 H143.0" fill="none" stroke="#2c52d2" stroke-width="0.85" stroke-linejoin="miter"/>
<path d="M36.8,439.7 H37.6 V435.0 H38.4 V436.9 H39.2 V431.9 H40.0 V435.0 H40.8 V429.3 H41.6 V434.4 H42.4 V430.4 H43.2 V431.1 H44.0 V426.1 H44.8 V426.6 H45.6 V421.6 H46.4 V431.3 H47.2 V424.2 H48.0 V430.9 H48.8 V423.3 H49.6 V424.7 H50.4 V414.4 H51.2 V420.7 H52.0 V412.4 H52.8 V411.2 H53.6 V399.3 H54.4 V402.5 H55.2 V392.0 H56.0 V388.6 H56.8 V375.0 H57.6 V384.9 H58.4 V369.6 H59.2 V373.2 H60.0 V360.7 H60.8 V378.7 H61.6 V362.1 H62.4 V366.5 H63.2 V357.5 H64.0 V386.9 H64.8 V373.7 H65.6 V385.9 H66.4 V384.3 H67.2 V397.7 H68.0 V399.0 H68.8 V409.2 H69.6 V406.0 H70.4 V410.3 H71.2 V401.8 H72.0 V414.4 H72.8 V407.8 H73.6 V422.0 H74.4 V409.1 H75.2 V419.9 H76.0 V413.7 H76.8 V422.7 H77.6 V420.0 H78.4 V424.8 H79.2 V421.0 H80.0 V427.8 H80.8 V424.3 H81.6 V430.5 H82.4 V423.1 H83.2 V430.4 H84.0 V421.3 H84.8 V427.1 H85.6 V424.4 H86.4 V429.0 H87.2 V429.5 H88.0 V433.2 H88.8 V431.3 H89.6 V433.9 H90.4 V432.3 H91.2 V433.9 H92.0 V431.1 H92.8 V434.7 H93.6 V431.6 H94.4 V435.7 H95.2 V433.2 H96.0 V435.7 H96.8 V434.3 H97.6 V435.3 H98.4 V434.0 H99.2 V436.2 H100.0 V432.9 H100.8 V435.4 H101.6 V434.2 H102.4 V435.9 H103.2 V431.3 H104.0 V438.1 H104.8 V437.0 H105.6 V439.7 H106.4 V438.1 H107.2 V439.6 H108.0 V439.2 V439.7 H143.0" fill="none" stroke="#f08898" stroke-width="2.05" stroke-linejoin="round" opacity="0.18"/>
<path d="M36.8,439.7 H37.6 V435.0 H38.4 V436.9 H39.2 V431.9 H40.0 V435.0 H40.8 V429.3 H41.6 V434.4 H42.4 V430.4 H43.2 V431.1 H44.0 V426.1 H44.8 V426.6 H45.6 V421.6 H46.4 V431.3 H47.2 V424.2 H48.0 V430.9 H48.8 V423.3 H49.6 V424.7 H50.4 V414.4 H51.2 V420.7 H52.0 V412.4 H52.8 V411.2 H53.6 V399.3 H54.4 V402.5 H55.2 V392.0 H56.0 V388.6 H56.8 V375.0 H57.6 V384.9 H58.4 V369.6 H59.2 V373.2 H60.0 V360.7 H60.8 V378.7 H61.6 V362.1 H62.4 V366.5 H63.2 V357.5 H64.0 V386.9 H64.8 V373.7 H65.6 V385.9 H66.4 V384.3 H67.2 V397.7 H68.0 V399.0 H68.8 V409.2 H69.6 V406.0 H70.4 V410.3 H71.2 V401.8 H72.0 V414.4 H72.8 V407.8 H73.6 V422.0 H74.4 V409.1 H75.2 V419.9 H76.0 V413.7 H76.8 V422.7 H77.6 V420.0 H78.4 V424.8 H79.2 V421.0 H80.0 V427.8 H80.8 V424.3 H81.6 V430.5 H82.4 V423.1 H83.2 V430.4 H84.0 V421.3 H84.8 V427.1 H85.6 V424.4 H86.4 V429.0 H87.2 V429.5 H88.0 V433.2 H88.8 V431.3 H89.6 V433.9 H90.4 V432.3 H91.2 V433.9 H92.0 V431.1 H92.8 V434.7 H93.6 V431.6 H94.4 V435.7 H95.2 V433.2 H96.0 V435.7 H96.8 V434.3 H97.6 V435.3 H98.4 V434.0 H99.2 V436.2 H100.0 V432.9 H100.8 V435.4 H101.6 V434.2 H102.4 V435.9 H103.2 V431.3 H104.0 V438.1 H104.8 V437.0 H105.6 V439.7 H106.4 V438.1 H107.2 V439.6 H108.0 V439.2 V439.7 H143.0" fill="none" stroke="#d8283c" stroke-width="0.85" stroke-linejoin="miter"/>
<text x="198.66" y="350.4" font-size="10.8" font-weight="normal" fill="#161616" stroke="#161616" stroke-width="0.3" textLength="43.08" lengthAdjust="spacingAndGlyphs">t = 400 s</text>
<rect x="169.4" y="354.6" width="111.29999999999998" height="83.19999999999999" fill="none" stroke="#161616" stroke-width="1.1"/>
<line x1="169.40" y1="437.80" x2="166.60" y2="437.80" stroke="#161616" stroke-width="0.9"/>
<line x1="169.40" y1="433.64" x2="167.40" y2="433.64" stroke="#161616" stroke-width="0.9"/>
<line x1="169.40" y1="429.48" x2="167.40" y2="429.48" stroke="#161616" stroke-width="0.9"/>
<line x1="169.40" y1="425.32" x2="167.40" y2="425.32" stroke="#161616" stroke-width="0.9"/>
<line x1="169.40" y1="421.16" x2="167.40" y2="421.16" stroke="#161616" stroke-width="0.9"/>
<line x1="169.40" y1="417.00" x2="166.60" y2="417.00" stroke="#161616" stroke-width="0.9"/>
<line x1="169.40" y1="412.84" x2="167.40" y2="412.84" stroke="#161616" stroke-width="0.9"/>
<line x1="169.40" y1="408.68" x2="167.40" y2="408.68" stroke="#161616" stroke-width="0.9"/>
<line x1="169.40" y1="404.52" x2="167.40" y2="404.52" stroke="#161616" stroke-width="0.9"/>
<line x1="169.40" y1="400.36" x2="167.40" y2="400.36" stroke="#161616" stroke-width="0.9"/>
<line x1="169.40" y1="396.20" x2="166.60" y2="396.20" stroke="#161616" stroke-width="0.9"/>
<line x1="169.40" y1="392.04" x2="167.40" y2="392.04" stroke="#161616" stroke-width="0.9"/>
<line x1="169.40" y1="387.88" x2="167.40" y2="387.88" stroke="#161616" stroke-width="0.9"/>
<line x1="169.40" y1="383.72" x2="167.40" y2="383.72" stroke="#161616" stroke-width="0.9"/>
<line x1="169.40" y1="379.56" x2="167.40" y2="379.56" stroke="#161616" stroke-width="0.9"/>
<line x1="169.40" y1="375.40" x2="166.60" y2="375.40" stroke="#161616" stroke-width="0.9"/>
<line x1="169.40" y1="371.24" x2="167.40" y2="371.24" stroke="#161616" stroke-width="0.9"/>
<line x1="169.40" y1="367.08" x2="167.40" y2="367.08" stroke="#161616" stroke-width="0.9"/>
<line x1="169.40" y1="362.92" x2="167.40" y2="362.92" stroke="#161616" stroke-width="0.9"/>
<line x1="169.40" y1="358.76" x2="167.40" y2="358.76" stroke="#161616" stroke-width="0.9"/>
<line x1="169.40" y1="354.60" x2="166.60" y2="354.60" stroke="#161616" stroke-width="0.9"/>
<line x1="169.40" y1="437.80" x2="169.40" y2="440.60" stroke="#161616" stroke-width="0.9"/>
<line x1="177.78" y1="437.80" x2="177.78" y2="439.80" stroke="#161616" stroke-width="0.9"/>
<line x1="182.68" y1="437.80" x2="182.68" y2="439.80" stroke="#161616" stroke-width="0.9"/>
<line x1="186.15" y1="437.80" x2="186.15" y2="439.80" stroke="#161616" stroke-width="0.9"/>
<line x1="188.85" y1="437.80" x2="188.85" y2="439.80" stroke="#161616" stroke-width="0.9"/>
<line x1="191.05" y1="437.80" x2="191.05" y2="439.80" stroke="#161616" stroke-width="0.9"/>
<line x1="192.91" y1="437.80" x2="192.91" y2="439.80" stroke="#161616" stroke-width="0.9"/>
<line x1="194.53" y1="437.80" x2="194.53" y2="439.80" stroke="#161616" stroke-width="0.9"/>
<line x1="195.95" y1="437.80" x2="195.95" y2="439.80" stroke="#161616" stroke-width="0.9"/>
<line x1="197.22" y1="437.80" x2="197.22" y2="440.60" stroke="#161616" stroke-width="0.9"/>
<line x1="205.60" y1="437.80" x2="205.60" y2="439.80" stroke="#161616" stroke-width="0.9"/>
<line x1="210.50" y1="437.80" x2="210.50" y2="439.80" stroke="#161616" stroke-width="0.9"/>
<line x1="213.98" y1="437.80" x2="213.98" y2="439.80" stroke="#161616" stroke-width="0.9"/>
<line x1="216.67" y1="437.80" x2="216.67" y2="439.80" stroke="#161616" stroke-width="0.9"/>
<line x1="218.88" y1="437.80" x2="218.88" y2="439.80" stroke="#161616" stroke-width="0.9"/>
<line x1="220.74" y1="437.80" x2="220.74" y2="439.80" stroke="#161616" stroke-width="0.9"/>
<line x1="222.35" y1="437.80" x2="222.35" y2="439.80" stroke="#161616" stroke-width="0.9"/>
<line x1="223.78" y1="437.80" x2="223.78" y2="439.80" stroke="#161616" stroke-width="0.9"/>
<line x1="225.05" y1="437.80" x2="225.05" y2="440.60" stroke="#161616" stroke-width="0.9"/>
<line x1="233.43" y1="437.80" x2="233.43" y2="439.80" stroke="#161616" stroke-width="0.9"/>
<line x1="238.33" y1="437.80" x2="238.33" y2="439.80" stroke="#161616" stroke-width="0.9"/>
<line x1="241.80" y1="437.80" x2="241.80" y2="439.80" stroke="#161616" stroke-width="0.9"/>
<line x1="244.50" y1="437.80" x2="244.50" y2="439.80" stroke="#161616" stroke-width="0.9"/>
<line x1="246.70" y1="437.80" x2="246.70" y2="439.80" stroke="#161616" stroke-width="0.9"/>
<line x1="248.56" y1="437.80" x2="248.56" y2="439.80" stroke="#161616" stroke-width="0.9"/>
<line x1="250.18" y1="437.80" x2="250.18" y2="439.80" stroke="#161616" stroke-width="0.9"/>
<line x1="251.60" y1="437.80" x2="251.60" y2="439.80" stroke="#161616" stroke-width="0.9"/>
<line x1="252.88" y1="437.80" x2="252.88" y2="440.60" stroke="#161616" stroke-width="0.9"/>
<line x1="261.25" y1="437.80" x2="261.25" y2="439.80" stroke="#161616" stroke-width="0.9"/>
<line x1="266.15" y1="437.80" x2="266.15" y2="439.80" stroke="#161616" stroke-width="0.9"/>
<line x1="269.63" y1="437.80" x2="269.63" y2="439.80" stroke="#161616" stroke-width="0.9"/>
<line x1="272.32" y1="437.80" x2="272.32" y2="439.80" stroke="#161616" stroke-width="0.9"/>
<line x1="274.53" y1="437.80" x2="274.53" y2="439.80" stroke="#161616" stroke-width="0.9"/>
<line x1="276.39" y1="437.80" x2="276.39" y2="439.80" stroke="#161616" stroke-width="0.9"/>
<line x1="278.00" y1="437.80" x2="278.00" y2="439.80" stroke="#161616" stroke-width="0.9"/>
<line x1="279.43" y1="437.80" x2="279.43" y2="439.80" stroke="#161616" stroke-width="0.9"/>
<line x1="280.70" y1="437.80" x2="280.70" y2="440.60" stroke="#161616" stroke-width="0.9"/>
<text x="174.46" y="365" font-size="10.8" font-weight="normal" fill="#161616" stroke="#161616" stroke-width="0.3" textLength="19.58" lengthAdjust="spacingAndGlyphs">B10</text>
<text x="171.86" y="378.6" font-size="10.8" font-weight="normal" fill="#161616" stroke="#161616" stroke-width="0.3" textLength="29.08" lengthAdjust="spacingAndGlyphs">(blue)</text>
<line x1="180.40" y1="382.70" x2="189.30" y2="400.80" stroke="#161616" stroke-width="1.2"/>
<text x="166.16" y="457.9" font-size="10.8" font-weight="normal" fill="#161616" stroke="#161616" stroke-width="0.3" textLength="12.68" lengthAdjust="spacingAndGlyphs">10</text>
<text x="182.50" y="451.6" font-size="8.2" text-anchor="middle" fill="#161616" stroke="#161616" stroke-width="0.2">0</text>
<text x="191.26" y="459.6" font-size="10.8" font-weight="normal" fill="#161616" stroke="#161616" stroke-width="0.3" textLength="76.98" lengthAdjust="spacingAndGlyphs">MC540 binding</text>
<text x="270.96" y="455.2" font-size="10.8" font-weight="normal" fill="#161616" stroke="#161616" stroke-width="0.3" textLength="12.08" lengthAdjust="spacingAndGlyphs">10</text>
<text x="285.50" y="448.8" font-size="8.2" text-anchor="middle" fill="#161616" stroke="#161616" stroke-width="0.2">4</text>
<path d="M172.8,436.0 H173.6 V434.9 H174.4 V434.7 H175.2 V431.8 H176.0 V434.1 H176.8 V430.8 H177.6 V433.9 H178.4 V431.7 H179.2 V433.1 H180.0 V430.5 H180.8 V431.4 H181.6 V429.6 H182.4 V430.1 H183.2 V426.7 H184.0 V429.3 H184.8 V426.2 H185.6 V425.6 H186.4 V420.6 H187.2 V420.0 H188.0 V416.3 H188.8 V415.2 H189.6 V411.2 H190.4 V411.8 H191.2 V407.9 H192.0 V410.2 H192.8 V404.1 H193.6 V406.4 H194.4 V397.8 H195.2 V398.4 H196.0 V386.7 H196.8 V399.7 H197.6 V394.4 H198.4 V404.3 H199.2 V400.9 H200.0 V415.4 H200.8 V411.2 H201.6 V420.3 H202.4 V420.5 H203.2 V420.2 H204.0 V411.1 H204.8 V415.4 H205.6 V406.8 H206.4 V405.2 H207.2 V399.2 H208.0 V399.0 H208.8 V380.1 H209.6 V380.2 H210.4 V365.6 H211.2 V363.8 H212.0 V354.6 H212.8 V366.0 H213.6 V360.7 H214.4 V369.6 H215.2 V362.2 H216.0 V383.5 H216.8 V386.3 H217.6 V395.6 H218.4 V396.8 H219.2 V405.7 H220.0 V408.1 H220.8 V414.3 H221.6 V417.7 H222.4 V424.4 H223.2 V422.9 H224.0 V427.5 H224.8 V424.2 H225.6 V430.8 H226.4 V427.4 H227.2 V429.4 H228.0 V427.5 H228.8 V436.2 H229.6 V430.3 H230.4 V433.2 H231.2 V432.0 H232.0 V436.2 H232.8 V432.8 H233.6 V433.7 H234.4 V432.3 H235.2 V432.8 H236.0 V431.2 H236.8 V431.1 H237.6 V426.9 H238.4 V428.9 H239.2 V426.8 H240.0 V430.5 H240.8 V428.5 H241.6 V432.8 H242.4 V428.2 H243.2 V430.5 H244.0 V427.6 H244.8 V431.5 H245.6 V431.5 H246.4 V434.9 H247.2 V433.5 H248.0 V434.8 H248.8 V434.1 H249.6 V436.2 H250.4 V435.2 H251.2 V437.0 V437.3 H256.0" fill="none" stroke="#8aa0f0" stroke-width="2.05" stroke-linejoin="round" opacity="0.18"/>
<path d="M172.8,436.0 H173.6 V434.9 H174.4 V434.7 H175.2 V431.8 H176.0 V434.1 H176.8 V430.8 H177.6 V433.9 H178.4 V431.7 H179.2 V433.1 H180.0 V430.5 H180.8 V431.4 H181.6 V429.6 H182.4 V430.1 H183.2 V426.7 H184.0 V429.3 H184.8 V426.2 H185.6 V425.6 H186.4 V420.6 H187.2 V420.0 H188.0 V416.3 H188.8 V415.2 H189.6 V411.2 H190.4 V411.8 H191.2 V407.9 H192.0 V410.2 H192.8 V404.1 H193.6 V406.4 H194.4 V397.8 H195.2 V398.4 H196.0 V386.7 H196.8 V399.7 H197.6 V394.4 H198.4 V404.3 H199.2 V400.9 H200.0 V415.4 H200.8 V411.2 H201.6 V420.3 H202.4 V420.5 H203.2 V420.2 H204.0 V411.1 H204.8 V415.4 H205.6 V406.8 H206.4 V405.2 H207.2 V399.2 H208.0 V399.0 H208.8 V380.1 H209.6 V380.2 H210.4 V365.6 H211.2 V363.8 H212.0 V354.6 H212.8 V366.0 H213.6 V360.7 H214.4 V369.6 H215.2 V362.2 H216.0 V383.5 H216.8 V386.3 H217.6 V395.6 H218.4 V396.8 H219.2 V405.7 H220.0 V408.1 H220.8 V414.3 H221.6 V417.7 H222.4 V424.4 H223.2 V422.9 H224.0 V427.5 H224.8 V424.2 H225.6 V430.8 H226.4 V427.4 H227.2 V429.4 H228.0 V427.5 H228.8 V436.2 H229.6 V430.3 H230.4 V433.2 H231.2 V432.0 H232.0 V436.2 H232.8 V432.8 H233.6 V433.7 H234.4 V432.3 H235.2 V432.8 H236.0 V431.2 H236.8 V431.1 H237.6 V426.9 H238.4 V428.9 H239.2 V426.8 H240.0 V430.5 H240.8 V428.5 H241.6 V432.8 H242.4 V428.2 H243.2 V430.5 H244.0 V427.6 H244.8 V431.5 H245.6 V431.5 H246.4 V434.9 H247.2 V433.5 H248.0 V434.8 H248.8 V434.1 H249.6 V436.2 H250.4 V435.2 H251.2 V437.0 V437.3 H256.0" fill="none" stroke="#2c52d2" stroke-width="0.85" stroke-linejoin="miter"/>
<path d="M191.1,437.3 H191.9 V435.2 H192.7 V435.5 H193.5 V433.7 H194.3 V435.1 H195.1 V435.3 H195.9 V435.0 H196.7 V431.3 H197.5 V432.9 H198.3 V428.4 H199.1 V429.4 H199.9 V426.3 H200.7 V428.1 H201.5 V424.9 H202.3 V431.0 H203.1 V428.3 H203.9 V431.8 H204.7 V431.4 H205.5 V433.5 H206.3 V432.5 H207.1 V435.5 H207.9 V432.7 H208.7 V434.4 H209.5 V428.7 H210.3 V428.4 H211.1 V418.4 H211.9 V417.4 H212.7 V399.9 H213.5 V402.0 H214.3 V381.8 H215.1 V380.1 H215.9 V360.1 H216.7 V366.2 H217.5 V354.6 H218.3 V358.6 H219.1 V360.5 H219.9 V374.4 H220.7 V374.2 H221.5 V387.5 H222.3 V388.6 H223.1 V404.8 H223.9 V396.6 H224.7 V402.7 H225.5 V403.9 H226.3 V415.1 H227.1 V416.8 H227.9 V421.9 H228.7 V412.9 H229.5 V425.9 H230.3 V424.4 H231.1 V430.0 H231.9 V429.6 H232.7 V431.1 H233.5 V428.4 H234.3 V435.9 H235.1 V432.5 H235.9 V433.8 H236.7 V431.8 H237.5 V434.3 H238.3 V433.3 H239.1 V435.5 H239.9 V433.4 H240.7 V436.2 H241.5 V435.3 H242.3 V435.8 H243.1 V435.4 H243.9 V436.4 H244.7 V436.0 H245.5 V436.6 H246.3 V436.1 H247.1 V437.0 H247.9 V436.7 H248.7 V437.3 H249.5 V435.6 H250.3 V436.9 H251.1 V434.8 H251.9 V436.9 H252.7 V434.4 H253.5 V435.8 H254.3 V435.6 H255.1 V437.3 H255.9 V436.7 H256.7 V437.3 V437.3 H280.5" fill="none" stroke="#f08898" stroke-width="2.05" stroke-linejoin="round" opacity="0.18"/>
<path d="M191.1,437.3 H191.9 V435.2 H192.7 V435.5 H193.5 V433.7 H194.3 V435.1 H195.1 V435.3 H195.9 V435.0 H196.7 V431.3 H197.5 V432.9 H198.3 V428.4 H199.1 V429.4 H199.9 V426.3 H200.7 V428.1 H201.5 V424.9 H202.3 V431.0 H203.1 V428.3 H203.9 V431.8 H204.7 V431.4 H205.5 V433.5 H206.3 V432.5 H207.1 V435.5 H207.9 V432.7 H208.7 V434.4 H209.5 V428.7 H210.3 V428.4 H211.1 V418.4 H211.9 V417.4 H212.7 V399.9 H213.5 V402.0 H214.3 V381.8 H215.1 V380.1 H215.9 V360.1 H216.7 V366.2 H217.5 V354.6 H218.3 V358.6 H219.1 V360.5 H219.9 V374.4 H220.7 V374.2 H221.5 V387.5 H222.3 V388.6 H223.1 V404.8 H223.9 V396.6 H224.7 V402.7 H225.5 V403.9 H226.3 V415.1 H227.1 V416.8 H227.9 V421.9 H228.7 V412.9 H229.5 V425.9 H230.3 V424.4 H231.1 V430.0 H231.9 V429.6 H232.7 V431.1 H233.5 V428.4 H234.3 V435.9 H235.1 V432.5 H235.9 V433.8 H236.7 V431.8 H237.5 V434.3 H238.3 V433.3 H239.1 V435.5 H239.9 V433.4 H240.7 V436.2 H241.5 V435.3 H242.3 V435.8 H243.1 V435.4 H243.9 V436.4 H244.7 V436.0 H245.5 V436.6 H246.3 V436.1 H247.1 V437.0 H247.9 V436.7 H248.7 V437.3 H249.5 V435.6 H250.3 V436.9 H251.1 V434.8 H251.9 V436.9 H252.7 V434.4 H253.5 V435.8 H254.3 V435.6 H255.1 V437.3 H255.9 V436.7 H256.7 V437.3 V437.3 H280.5" fill="none" stroke="#d8283c" stroke-width="0.85" stroke-linejoin="miter"/>
<text x="-0.3" y="505.4" font-size="25" font-weight="bold" fill="#0c0c0c" letter-spacing="0">C</text>
<text x="30.97" y="509.6" font-size="10.6" font-weight="normal" fill="#161616" stroke="#161616" stroke-width="0.3" textLength="53.06" lengthAdjust="spacingAndGlyphs">calcimycin</text>
<rect x="43" y="519.8" width="112.30000000000001" height="93.80000000000007" fill="none" stroke="#161616" stroke-width="1.1"/>
<line x1="43.00" y1="524.70" x2="41.00" y2="524.70" stroke="#161616" stroke-width="0.8"/>
<line x1="43.00" y1="541.50" x2="41.00" y2="541.50" stroke="#161616" stroke-width="0.8"/>
<line x1="43.00" y1="558.30" x2="41.00" y2="558.30" stroke="#161616" stroke-width="0.8"/>
<line x1="43.00" y1="575.10" x2="41.00" y2="575.10" stroke="#161616" stroke-width="0.8"/>
<line x1="43.00" y1="591.90" x2="41.00" y2="591.90" stroke="#161616" stroke-width="0.8"/>
<line x1="43.00" y1="608.70" x2="41.00" y2="608.70" stroke="#161616" stroke-width="0.8"/>
<line x1="51.90" y1="518.60" x2="51.90" y2="556.40" stroke="#161616" stroke-width="1.3"/>
<path d="M48.20,554.40 L51.90,556.60 L55.60,554.40 L51.90,563.40 Z" fill="#161616"/>
<text x="16.76" y="523.9" font-size="10.8" font-weight="normal" fill="#161616" stroke="#161616" stroke-width="0.3" textLength="18.48" lengthAdjust="spacingAndGlyphs">100</text>
<text x="28.26" y="616.2" font-size="10.8" font-weight="normal" fill="#161616" stroke="#161616" stroke-width="0.3" textLength="6.58" lengthAdjust="spacingAndGlyphs">0</text>
<text x="-0.55" y="0" font-size="11" fill="#161616" stroke="#161616" stroke-width="0.3" transform="translate(15.4,608.2) rotate(-90)" textLength="51.80" lengthAdjust="spacingAndGlyphs">% MC 540</text>
<text x="-0.43" y="0" font-size="8.5" fill="#161616" stroke="#161616" stroke-width="0.3" transform="translate(7.2,556.2) rotate(-90)" textLength="5.65" lengthAdjust="spacingAndGlyphs">+</text>
<text x="-0.55" y="0" font-size="11" fill="#161616" stroke="#161616" stroke-width="0.3" transform="translate(15.4,549.4) rotate(-90)" textLength="20.90" lengthAdjust="spacingAndGlyphs">cells</text>
<line x1="43.00" y1="613.60" x2="43.00" y2="617.10" stroke="#161616" stroke-width="0.9"/>
<line x1="47.42" y1="613.60" x2="47.42" y2="615.40" stroke="#161616" stroke-width="0.9"/>
<line x1="51.84" y1="613.60" x2="51.84" y2="615.40" stroke="#161616" stroke-width="0.9"/>
<line x1="56.26" y1="613.60" x2="56.26" y2="615.40" stroke="#161616" stroke-width="0.9"/>
<line x1="60.68" y1="613.60" x2="60.68" y2="615.40" stroke="#161616" stroke-width="0.9"/>
<line x1="65.10" y1="613.60" x2="65.10" y2="617.10" stroke="#161616" stroke-width="0.9"/>
<line x1="69.52" y1="613.60" x2="69.52" y2="615.40" stroke="#161616" stroke-width="0.9"/>
<line x1="73.94" y1="613.60" x2="73.94" y2="615.40" stroke="#161616" stroke-width="0.9"/>
<line x1="78.36" y1="613.60" x2="78.36" y2="615.40" stroke="#161616" stroke-width="0.9"/>
<line x1="82.78" y1="613.60" x2="82.78" y2="615.40" stroke="#161616" stroke-width="0.9"/>
<line x1="87.20" y1="613.60" x2="87.20" y2="617.10" stroke="#161616" stroke-width="0.9"/>
<line x1="91.62" y1="613.60" x2="91.62" y2="615.40" stroke="#161616" stroke-width="0.9"/>
<line x1="96.04" y1="613.60" x2="96.04" y2="615.40" stroke="#161616" stroke-width="0.9"/>
<line x1="100.46" y1="613.60" x2="100.46" y2="615.40" stroke="#161616" stroke-width="0.9"/>
<line x1="104.88" y1="613.60" x2="104.88" y2="615.40" stroke="#161616" stroke-width="0.9"/>
<line x1="109.30" y1="613.60" x2="109.30" y2="617.10" stroke="#161616" stroke-width="0.9"/>
<line x1="113.72" y1="613.60" x2="113.72" y2="615.40" stroke="#161616" stroke-width="0.9"/>
<line x1="118.14" y1="613.60" x2="118.14" y2="615.40" stroke="#161616" stroke-width="0.9"/>
<line x1="122.56" y1="613.60" x2="122.56" y2="615.40" stroke="#161616" stroke-width="0.9"/>
<line x1="126.98" y1="613.60" x2="126.98" y2="615.40" stroke="#161616" stroke-width="0.9"/>
<line x1="131.40" y1="613.60" x2="131.40" y2="617.10" stroke="#161616" stroke-width="0.9"/>
<line x1="135.82" y1="613.60" x2="135.82" y2="615.40" stroke="#161616" stroke-width="0.9"/>
<line x1="140.24" y1="613.60" x2="140.24" y2="615.40" stroke="#161616" stroke-width="0.9"/>
<line x1="144.66" y1="613.60" x2="144.66" y2="615.40" stroke="#161616" stroke-width="0.9"/>
<line x1="149.08" y1="613.60" x2="149.08" y2="615.40" stroke="#161616" stroke-width="0.9"/>
<line x1="153.50" y1="613.60" x2="153.50" y2="617.10" stroke="#161616" stroke-width="0.9"/>
<text x="41.36" y="628.5" font-size="10.8" font-weight="normal" fill="#161616" stroke="#161616" stroke-width="0.3" textLength="7.38" lengthAdjust="spacingAndGlyphs">0</text>
<text x="150.26" y="631.2" font-size="10.8" font-weight="normal" fill="#161616" stroke="#161616" stroke-width="0.3" textLength="19.58" lengthAdjust="spacingAndGlyphs">500</text>
<text x="90.56" y="636.5" font-size="10.8" font-weight="normal" fill="#161616" stroke="#161616" stroke-width="0.3" textLength="38.48" lengthAdjust="spacingAndGlyphs">Time (s)</text>
<text x="160.16" y="530.7" font-size="10.8" font-weight="normal" fill="#161616" stroke="#161616" stroke-width="0.3" textLength="24.18" lengthAdjust="spacingAndGlyphs">NOD</text>
<text x="161.36" y="554" font-size="10.8" font-weight="normal" fill="#161616" stroke="#161616" stroke-width="0.3" textLength="21.98" lengthAdjust="spacingAndGlyphs">DBA</text>
<path d="M43.5,603.1 L44.5,606.7 L45.5,605.8 L46.5,606.9 L47.5,602.2 L48.5,608.2 L49.5,605.5 L50.5,602.1 L51.5,601.5 L52.5,601.5 L53.5,602.8 L54.5,607.4 L55.5,606.6 L56.5,602.8 L57.5,602.7 L58.5,608.7 L59.5,606.0 L60.5,601.5 L61.5,602.9 L62.5,602.0 L63.5,603.2 L64.5,604.7 L65.5,601.6 L66.5,603.0 L67.5,603.2 L68.5,603.5 L69.5,599.7 L70.5,600.5 L71.5,605.8 L72.5,600.0 L73.5,600.1 L74.5,600.7 L75.5,597.8 L76.5,597.8 L77.5,602.5 L78.5,601.2 L79.5,594.7 L80.5,597.2 L81.5,593.3 L82.5,592.1 L83.5,595.4 L84.5,598.6 L85.5,594.0 L86.5,597.3 L87.5,590.5 L88.5,592.7 L89.5,591.4 L90.5,590.2 L91.5,591.2 L92.5,589.0 L93.5,585.3 L94.5,582.6 L95.5,584.2 L96.5,585.3 L97.5,583.5 L98.5,580.3 L99.5,578.5 L100.5,583.7 L101.5,581.0 L102.5,577.8 L103.5,579.3 L104.5,578.5 L105.5,575.7 L106.5,573.8 L107.5,576.2 L108.5,573.9 L109.5,573.9 L110.5,572.1 L111.5,570.2 L112.5,568.9 L113.5,569.6 L114.5,569.1 L115.5,570.1 L116.5,569.1 L117.5,569.5 L118.5,568.1 L119.5,563.0 L120.5,562.9 L121.5,558.4 L122.5,559.3 L123.5,557.8 L124.5,560.1 L125.5,557.4 L126.5,555.5 L127.5,556.2 L128.5,550.8 L129.5,554.8 L130.5,556.1 L131.5,558.0 L132.5,551.6 L133.5,552.7 L134.5,547.3 L135.5,554.3 L136.5,549.2 L137.5,549.6 L138.5,545.3 L139.5,549.1 L140.5,549.0 L141.5,548.0 L142.5,548.0 L143.5,547.8 L144.5,546.6 L145.5,542.9 L146.5,549.2 L147.5,544.7 L148.5,544.1 L149.5,543.2 L150.5,541.3 L151.5,540.4 L152.5,540.4 L153.5,536.4 L154.5,538.7 L155.0,534.4" fill="none" stroke="#b8f090" stroke-width="2.6" stroke-linejoin="round" opacity="0.35"/>
<path d="M43.5,603.1 L44.5,606.7 L45.5,605.8 L46.5,606.9 L47.5,602.2 L48.5,608.2 L49.5,605.5 L50.5,602.1 L51.5,601.5 L52.5,601.5 L53.5,602.8 L54.5,607.4 L55.5,606.6 L56.5,602.8 L57.5,602.7 L58.5,608.7 L59.5,606.0 L60.5,601.5 L61.5,602.9 L62.5,602.0 L63.5,603.2 L64.5,604.7 L65.5,601.6 L66.5,603.0 L67.5,603.2 L68.5,603.5 L69.5,599.7 L70.5,600.5 L71.5,605.8 L72.5,600.0 L73.5,600.1 L74.5,600.7 L75.5,597.8 L76.5,597.8 L77.5,602.5 L78.5,601.2 L79.5,594.7 L80.5,597.2 L81.5,593.3 L82.5,592.1 L83.5,595.4 L84.5,598.6 L85.5,594.0 L86.5,597.3 L87.5,590.5 L88.5,592.7 L89.5,591.4 L90.5,590.2 L91.5,591.2 L92.5,589.0 L93.5,585.3 L94.5,582.6 L95.5,584.2 L96.5,585.3 L97.5,583.5 L98.5,580.3 L99.5,578.5 L100.5,583.7 L101.5,581.0 L102.5,577.8 L103.5,579.3 L104.5,578.5 L105.5,575.7 L106.5,573.8 L107.5,576.2 L108.5,573.9 L109.5,573.9 L110.5,572.1 L111.5,570.2 L112.5,568.9 L113.5,569.6 L114.5,569.1 L115.5,570.1 L116.5,569.1 L117.5,569.5 L118.5,568.1 L119.5,563.0 L120.5,562.9 L121.5,558.4 L122.5,559.3 L123.5,557.8 L124.5,560.1 L125.5,557.4 L126.5,555.5 L127.5,556.2 L128.5,550.8 L129.5,554.8 L130.5,556.1 L131.5,558.0 L132.5,551.6 L133.5,552.7 L134.5,547.3 L135.5,554.3 L136.5,549.2 L137.5,549.6 L138.5,545.3 L139.5,549.1 L140.5,549.0 L141.5,548.0 L142.5,548.0 L143.5,547.8 L144.5,546.6 L145.5,542.9 L146.5,549.2 L147.5,544.7 L148.5,544.1 L149.5,543.2 L150.5,541.3 L151.5,540.4 L152.5,540.4 L153.5,536.4 L154.5,538.7 L155.0,534.4" fill="none" stroke="#84e23c" stroke-width="1.0" stroke-linejoin="round"/>
<path d="M43.5,607.5 L44.5,604.0 L45.5,608.3 L46.5,608.6 L47.5,601.3 L48.5,602.7 L49.5,606.1 L50.5,604.9 L51.5,605.5 L52.5,603.2 L53.5,607.4 L54.5,607.0 L55.5,605.1 L56.5,607.6 L57.5,605.8 L58.5,602.3 L59.5,605.2 L60.5,601.7 L61.5,606.1 L62.5,603.6 L63.5,603.0 L64.5,601.5 L65.5,606.0 L66.5,602.4 L67.5,601.5 L68.5,601.4 L69.5,603.4 L70.5,602.8 L71.5,602.6 L72.5,602.4 L73.5,606.3 L74.5,599.6 L75.5,599.0 L76.5,597.8 L77.5,601.1 L78.5,602.0 L79.5,598.5 L80.5,596.3 L81.5,596.0 L82.5,599.3 L83.5,599.1 L84.5,598.2 L85.5,594.9 L86.5,596.7 L87.5,596.0 L88.5,595.5 L89.5,596.4 L90.5,594.2 L91.5,594.8 L92.5,592.9 L93.5,593.0 L94.5,593.3 L95.5,587.3 L96.5,589.3 L97.5,588.1 L98.5,587.1 L99.5,587.6 L100.5,591.8 L101.5,585.6 L102.5,589.7 L103.5,582.0 L104.5,584.0 L105.5,583.9 L106.5,584.0 L107.5,583.8 L108.5,584.0 L109.5,581.5 L110.5,581.4 L111.5,584.1 L112.5,580.2 L113.5,575.5 L114.5,573.6 L115.5,571.9 L116.5,573.8 L117.5,571.8 L118.5,572.4 L119.5,569.0 L120.5,569.8 L121.5,569.9 L122.5,566.4 L123.5,567.2 L124.5,563.6 L125.5,564.1 L126.5,564.4 L127.5,562.8 L128.5,567.2 L129.5,564.3 L130.5,564.3 L131.5,563.7 L132.5,561.7 L133.5,561.0 L134.5,558.4 L135.5,557.6 L136.5,558.8 L137.5,555.2 L138.5,555.9 L139.5,555.7 L140.5,555.6 L141.5,557.9 L142.5,553.7 L143.5,554.4 L144.5,558.6 L145.5,554.7 L146.5,557.7 L147.5,553.5 L148.5,554.7 L149.5,552.0 L150.5,552.8 L151.5,555.5 L152.5,549.6 L153.5,554.5 L154.5,553.6 L155.0,551.3" fill="none" stroke="#b8f090" stroke-width="2.6" stroke-linejoin="round" opacity="0.35"/>
<path d="M43.5,607.5 L44.5,604.0 L45.5,608.3 L46.5,608.6 L47.5,601.3 L48.5,602.7 L49.5,606.1 L50.5,604.9 L51.5,605.5 L52.5,603.2 L53.5,607.4 L54.5,607.0 L55.5,605.1 L56.5,607.6 L57.5,605.8 L58.5,602.3 L59.5,605.2 L60.5,601.7 L61.5,606.1 L62.5,603.6 L63.5,603.0 L64.5,601.5 L65.5,606.0 L66.5,602.4 L67.5,601.5 L68.5,601.4 L69.5,603.4 L70.5,602.8 L71.5,602.6 L72.5,602.4 L73.5,606.3 L74.5,599.6 L75.5,599.0 L76.5,597.8 L77.5,601.1 L78.5,602.0 L79.5,598.5 L80.5,596.3 L81.5,596.0 L82.5,599.3 L83.5,599.1 L84.5,598.2 L85.5,594.9 L86.5,596.7 L87.5,596.0 L88.5,595.5 L89.5,596.4 L90.5,594.2 L91.5,594.8 L92.5,592.9 L93.5,593.0 L94.5,593.3 L95.5,587.3 L96.5,589.3 L97.5,588.1 L98.5,587.1 L99.5,587.6 L100.5,591.8 L101.5,585.6 L102.5,589.7 L103.5,582.0 L104.5,584.0 L105.5,583.9 L106.5,584.0 L107.5,583.8 L108.5,584.0 L109.5,581.5 L110.5,581.4 L111.5,584.1 L112.5,580.2 L113.5,575.5 L114.5,573.6 L115.5,571.9 L116.5,573.8 L117.5,571.8 L118.5,572.4 L119.5,569.0 L120.5,569.8 L121.5,569.9 L122.5,566.4 L123.5,567.2 L124.5,563.6 L125.5,564.1 L126.5,564.4 L127.5,562.8 L128.5,567.2 L129.5,564.3 L130.5,564.3 L131.5,563.7 L132.5,561.7 L133.5,561.0 L134.5,558.4 L135.5,557.6 L136.5,558.8 L137.5,555.2 L138.5,555.9 L139.5,555.7 L140.5,555.6 L141.5,557.9 L142.5,553.7 L143.5,554.4 L144.5,558.6 L145.5,554.7 L146.5,557.7 L147.5,553.5 L148.5,554.7 L149.5,552.0 L150.5,552.8 L151.5,555.5 L152.5,549.6 L153.5,554.5 L154.5,553.6 L155.0,551.3" fill="none" stroke="#84e23c" stroke-width="1.0" stroke-linejoin="round"/>
<path d="M43.5,608.0 L44.5,608.9 L45.5,605.6 L46.5,604.6 L47.5,601.8 L48.5,609.0 L49.5,606.5 L50.5,606.8 L51.5,604.2 L52.5,609.0 L53.5,608.2 L54.5,605.4 L55.5,604.1 L56.5,604.5 L57.5,603.2 L58.5,605.1 L59.5,603.4 L60.5,606.2 L61.5,603.6 L62.5,603.4 L63.5,607.9 L64.5,602.1 L65.5,599.8 L66.5,604.4 L67.5,598.1 L68.5,603.7 L69.5,605.3 L70.5,602.8 L71.5,602.4 L72.5,597.0 L73.5,603.2 L74.5,602.6 L75.5,598.3 L76.5,605.8 L77.5,597.6 L78.5,596.2 L79.5,595.6 L80.5,599.9 L81.5,600.4 L82.5,600.5 L83.5,598.3 L84.5,596.9 L85.5,600.9 L86.5,596.4 L87.5,595.3 L88.5,601.5 L89.5,598.3 L90.5,598.9 L91.5,599.4 L92.5,596.5 L93.5,596.7 L94.5,599.5 L95.5,596.0 L96.5,597.7 L97.5,595.9 L98.5,592.6 L99.5,597.6 L100.5,591.6 L101.5,595.0 L102.5,593.9 L103.5,595.5 L104.5,588.0 L105.5,588.0 L106.5,588.2 L107.5,588.6 L108.5,590.7 L109.5,590.0 L110.5,589.8 L111.5,592.2 L112.5,594.0 L113.5,583.9 L114.5,585.5 L115.5,585.7 L116.5,582.8 L117.5,585.4 L118.5,580.1 L119.5,577.5 L120.5,581.0 L121.5,570.3 L122.5,574.2 L123.5,579.6 L124.5,572.3 L125.5,572.5 L126.5,569.2 L127.5,571.5 L128.5,571.0 L129.5,575.1 L130.5,566.5 L131.5,560.4 L132.5,566.6 L133.5,568.8 L134.5,563.2 L135.5,561.0 L136.5,563.9 L137.5,568.6 L138.5,566.7 L139.5,568.1 L140.5,561.6 L141.5,565.7 L142.5,568.4 L143.5,565.6 L144.5,564.0 L145.5,569.8 L146.5,570.1 L147.5,566.4 L148.5,565.0 L149.5,569.3 L150.5,564.2 L151.5,565.3 L152.5,571.2 L153.5,565.8 L154.5,562.9 L155.0,558.6" fill="none" stroke="#b8f090" stroke-width="2.6" stroke-linejoin="round" opacity="0.35"/>
<path d="M43.5,608.0 L44.5,608.9 L45.5,605.6 L46.5,604.6 L47.5,601.8 L48.5,609.0 L49.5,606.5 L50.5,606.8 L51.5,604.2 L52.5,609.0 L53.5,608.2 L54.5,605.4 L55.5,604.1 L56.5,604.5 L57.5,603.2 L58.5,605.1 L59.5,603.4 L60.5,606.2 L61.5,603.6 L62.5,603.4 L63.5,607.9 L64.5,602.1 L65.5,599.8 L66.5,604.4 L67.5,598.1 L68.5,603.7 L69.5,605.3 L70.5,602.8 L71.5,602.4 L72.5,597.0 L73.5,603.2 L74.5,602.6 L75.5,598.3 L76.5,605.8 L77.5,597.6 L78.5,596.2 L79.5,595.6 L80.5,599.9 L81.5,600.4 L82.5,600.5 L83.5,598.3 L84.5,596.9 L85.5,600.9 L86.5,596.4 L87.5,595.3 L88.5,601.5 L89.5,598.3 L90.5,598.9 L91.5,599.4 L92.5,596.5 L93.5,596.7 L94.5,599.5 L95.5,596.0 L96.5,597.7 L97.5,595.9 L98.5,592.6 L99.5,597.6 L100.5,591.6 L101.5,595.0 L102.5,593.9 L103.5,595.5 L104.5,588.0 L105.5,588.0 L106.5,588.2 L107.5,588.6 L108.5,590.7 L109.5,590.0 L110.5,589.8 L111.5,592.2 L112.5,594.0 L113.5,583.9 L114.5,585.5 L115.5,585.7 L116.5,582.8 L117.5,585.4 L118.5,580.1 L119.5,577.5 L120.5,581.0 L121.5,570.3 L122.5,574.2 L123.5,579.6 L124.5,572.3 L125.5,572.5 L126.5,569.2 L127.5,571.5 L128.5,571.0 L129.5,575.1 L130.5,566.5 L131.5,560.4 L132.5,566.6 L133.5,568.8 L134.5,563.2 L135.5,561.0 L136.5,563.9 L137.5,568.6 L138.5,566.7 L139.5,568.1 L140.5,561.6 L141.5,565.7 L142.5,568.4 L143.5,565.6 L144.5,564.0 L145.5,569.8 L146.5,570.1 L147.5,566.4 L148.5,565.0 L149.5,569.3 L150.5,564.2 L151.5,565.3 L152.5,571.2 L153.5,565.8 L154.5,562.9 L155.0,558.6" fill="none" stroke="#84e23c" stroke-width="1.0" stroke-linejoin="round"/>
<path d="M43.5,604.7 L44.5,604.9 L45.5,604.8 L46.5,602.6 L47.5,604.1 L48.5,603.0 L49.5,603.2 L50.5,602.1 L51.5,602.7 L52.5,600.2 L53.5,602.9 L54.5,602.0 L55.5,599.7 L56.5,600.8 L57.5,600.3 L58.5,597.6 L59.5,599.9 L60.5,598.3 L61.5,598.4 L62.5,597.7 L63.5,597.7 L64.5,597.9 L65.5,597.7 L66.5,595.6 L67.5,596.7 L68.5,595.3 L69.5,595.0 L70.5,595.6 L71.5,596.5 L72.5,595.9 L73.5,594.1 L74.5,593.6 L75.5,592.6 L76.5,592.4 L77.5,592.0 L78.5,589.7 L79.5,589.2 L80.5,586.9 L81.5,586.4 L82.5,580.7 L83.5,578.7 L84.5,578.8 L85.5,577.5 L86.5,574.0 L87.5,572.6 L88.5,568.6 L89.5,566.4 L90.5,565.0 L91.5,564.8 L92.5,563.5 L93.5,560.8 L94.5,560.4 L95.5,557.4 L96.5,555.3 L97.5,551.5 L98.5,550.8 L99.5,548.7 L100.5,547.9 L101.5,545.3 L102.5,542.9 L103.5,542.1 L104.5,540.0 L105.5,539.1 L106.5,537.9 L107.5,538.8 L108.5,537.1 L109.5,538.4 L110.5,538.4 L111.5,535.6 L112.5,536.6 L113.5,535.6 L114.5,532.9 L115.5,530.3 L116.5,529.7 L117.5,531.2 L118.5,533.3 L119.5,531.8 L120.5,531.6 L121.5,530.0 L122.5,529.2 L123.5,530.5 L124.5,529.3 L125.5,530.9 L126.5,532.2 L127.5,531.8 L128.5,531.9 L129.5,529.8 L130.5,529.7 L131.5,528.3 L132.5,525.2 L133.5,525.7 L134.5,526.2 L135.5,528.1 L136.5,528.0 L137.5,528.0 L138.5,527.6 L139.5,527.7 L140.5,527.7 L141.5,525.9 L142.5,525.0 L143.5,527.8 L144.5,527.2 L145.5,527.6 L146.5,527.2 L147.5,525.6 L148.5,524.6 L149.5,527.0 L150.5,527.1 L151.5,527.4 L152.5,527.5 L153.5,528.5 L154.5,528.3 L155.0,529.0" fill="none" stroke="#f08898" stroke-width="2.6" stroke-linejoin="round" opacity="0.35"/>
<path d="M43.5,604.7 L44.5,604.9 L45.5,604.8 L46.5,602.6 L47.5,604.1 L48.5,603.0 L49.5,603.2 L50.5,602.1 L51.5,602.7 L52.5,600.2 L53.5,602.9 L54.5,602.0 L55.5,599.7 L56.5,600.8 L57.5,600.3 L58.5,597.6 L59.5,599.9 L60.5,598.3 L61.5,598.4 L62.5,597.7 L63.5,597.7 L64.5,597.9 L65.5,597.7 L66.5,595.6 L67.5,596.7 L68.5,595.3 L69.5,595.0 L70.5,595.6 L71.5,596.5 L72.5,595.9 L73.5,594.1 L74.5,593.6 L75.5,592.6 L76.5,592.4 L77.5,592.0 L78.5,589.7 L79.5,589.2 L80.5,586.9 L81.5,586.4 L82.5,580.7 L83.5,578.7 L84.5,578.8 L85.5,577.5 L86.5,574.0 L87.5,572.6 L88.5,568.6 L89.5,566.4 L90.5,565.0 L91.5,564.8 L92.5,563.5 L93.5,560.8 L94.5,560.4 L95.5,557.4 L96.5,555.3 L97.5,551.5 L98.5,550.8 L99.5,548.7 L100.5,547.9 L101.5,545.3 L102.5,542.9 L103.5,542.1 L104.5,540.0 L105.5,539.1 L106.5,537.9 L107.5,538.8 L108.5,537.1 L109.5,538.4 L110.5,538.4 L111.5,535.6 L112.5,536.6 L113.5,535.6 L114.5,532.9 L115.5,530.3 L116.5,529.7 L117.5,531.2 L118.5,533.3 L119.5,531.8 L120.5,531.6 L121.5,530.0 L122.5,529.2 L123.5,530.5 L124.5,529.3 L125.5,530.9 L126.5,532.2 L127.5,531.8 L128.5,531.9 L129.5,529.8 L130.5,529.7 L131.5,528.3 L132.5,525.2 L133.5,525.7 L134.5,526.2 L135.5,528.1 L136.5,528.0 L137.5,528.0 L138.5,527.6 L139.5,527.7 L140.5,527.7 L141.5,525.9 L142.5,525.0 L143.5,527.8 L144.5,527.2 L145.5,527.6 L146.5,527.2 L147.5,525.6 L148.5,524.6 L149.5,527.0 L150.5,527.1 L151.5,527.4 L152.5,527.5 L153.5,528.5 L154.5,528.3 L155.0,529.0" fill="none" stroke="#d8283c" stroke-width="1.0" stroke-linejoin="round"/>
<path d="M43.5,606.5 L44.5,605.9 L45.5,604.5 L46.5,604.8 L47.5,602.9 L48.5,601.2 L49.5,604.5 L50.5,602.8 L51.5,599.6 L52.5,600.4 L53.5,600.6 L54.5,601.4 L55.5,602.2 L56.5,600.8 L57.5,599.7 L58.5,600.4 L59.5,599.4 L60.5,599.6 L61.5,598.4 L62.5,597.5 L63.5,599.9 L64.5,597.9 L65.5,598.1 L66.5,597.0 L67.5,596.8 L68.5,596.7 L69.5,597.6 L70.5,597.8 L71.5,596.8 L72.5,595.2 L73.5,598.6 L74.5,596.1 L75.5,595.5 L76.5,592.8 L77.5,592.1 L78.5,591.9 L79.5,588.3 L80.5,587.8 L81.5,587.5 L82.5,588.1 L83.5,584.2 L84.5,580.6 L85.5,578.2 L86.5,578.5 L87.5,574.6 L88.5,573.4 L89.5,574.5 L90.5,570.9 L91.5,568.9 L92.5,567.6 L93.5,568.8 L94.5,567.6 L95.5,563.3 L96.5,559.4 L97.5,558.0 L98.5,557.5 L99.5,554.8 L100.5,551.2 L101.5,550.8 L102.5,549.1 L103.5,546.4 L104.5,545.1 L105.5,543.7 L106.5,542.6 L107.5,542.2 L108.5,541.0 L109.5,540.3 L110.5,538.6 L111.5,539.6 L112.5,538.4 L113.5,536.9 L114.5,536.8 L115.5,536.3 L116.5,535.6 L117.5,536.9 L118.5,536.4 L119.5,536.2 L120.5,533.6 L121.5,534.5 L122.5,534.9 L123.5,533.5 L124.5,532.7 L125.5,531.6 L126.5,532.2 L127.5,533.8 L128.5,530.4 L129.5,531.0 L130.5,528.3 L131.5,529.3 L132.5,527.5 L133.5,529.2 L134.5,530.3 L135.5,531.0 L136.5,529.7 L137.5,530.3 L138.5,529.3 L139.5,529.5 L140.5,528.8 L141.5,528.7 L142.5,529.8 L143.5,528.2 L144.5,528.6 L145.5,528.7 L146.5,528.7 L147.5,527.5 L148.5,528.5 L149.5,526.5 L150.5,529.8 L151.5,528.3 L152.5,530.1 L153.5,527.9 L154.5,528.7 L155.0,529.0" fill="none" stroke="#f08898" stroke-width="2.6" stroke-linejoin="round" opacity="0.35"/>
<path d="M43.5,606.5 L44.5,605.9 L45.5,604.5 L46.5,604.8 L47.5,602.9 L48.5,601.2 L49.5,604.5 L50.5,602.8 L51.5,599.6 L52.5,600.4 L53.5,600.6 L54.5,601.4 L55.5,602.2 L56.5,600.8 L57.5,599.7 L58.5,600.4 L59.5,599.4 L60.5,599.6 L61.5,598.4 L62.5,597.5 L63.5,599.9 L64.5,597.9 L65.5,598.1 L66.5,597.0 L67.5,596.8 L68.5,596.7 L69.5,597.6 L70.5,597.8 L71.5,596.8 L72.5,595.2 L73.5,598.6 L74.5,596.1 L75.5,595.5 L76.5,592.8 L77.5,592.1 L78.5,591.9 L79.5,588.3 L80.5,587.8 L81.5,587.5 L82.5,588.1 L83.5,584.2 L84.5,580.6 L85.5,578.2 L86.5,578.5 L87.5,574.6 L88.5,573.4 L89.5,574.5 L90.5,570.9 L91.5,568.9 L92.5,567.6 L93.5,568.8 L94.5,567.6 L95.5,563.3 L96.5,559.4 L97.5,558.0 L98.5,557.5 L99.5,554.8 L100.5,551.2 L101.5,550.8 L102.5,549.1 L103.5,546.4 L104.5,545.1 L105.5,543.7 L106.5,542.6 L107.5,542.2 L108.5,541.0 L109.5,540.3 L110.5,538.6 L111.5,539.6 L112.5,538.4 L113.5,536.9 L114.5,536.8 L115.5,536.3 L116.5,535.6 L117.5,536.9 L118.5,536.4 L119.5,536.2 L120.5,533.6 L121.5,534.5 L122.5,534.9 L123.5,533.5 L124.5,532.7 L125.5,531.6 L126.5,532.2 L127.5,533.8 L128.5,530.4 L129.5,531.0 L130.5,528.3 L131.5,529.3 L132.5,527.5 L133.5,529.2 L134.5,530.3 L135.5,531.0 L136.5,529.7 L137.5,530.3 L138.5,529.3 L139.5,529.5 L140.5,528.8 L141.5,528.7 L142.5,529.8 L143.5,528.2 L144.5,528.6 L145.5,528.7 L146.5,528.7 L147.5,527.5 L148.5,528.5 L149.5,526.5 L150.5,529.8 L151.5,528.3 L152.5,530.1 L153.5,527.9 L154.5,528.7 L155.0,529.0" fill="none" stroke="#d8283c" stroke-width="1.0" stroke-linejoin="round"/>
<path d="M43.5,606.3 L44.5,604.8 L45.5,605.6 L46.5,604.5 L47.5,602.3 L48.5,604.7 L49.5,603.0 L50.5,603.3 L51.5,604.3 L52.5,602.3 L53.5,600.5 L54.5,600.7 L55.5,602.3 L56.5,599.3 L57.5,600.9 L58.5,600.7 L59.5,598.8 L60.5,599.9 L61.5,600.1 L62.5,598.4 L63.5,598.4 L64.5,599.2 L65.5,596.9 L66.5,597.1 L67.5,598.9 L68.5,597.6 L69.5,595.7 L70.5,597.0 L71.5,598.9 L72.5,594.8 L73.5,597.1 L74.5,596.8 L75.5,595.2 L76.5,595.2 L77.5,592.9 L78.5,594.5 L79.5,593.9 L80.5,589.9 L81.5,589.3 L82.5,588.3 L83.5,586.0 L84.5,585.3 L85.5,581.7 L86.5,581.6 L87.5,579.0 L88.5,577.8 L89.5,576.9 L90.5,575.8 L91.5,571.9 L92.5,572.9 L93.5,572.0 L94.5,570.1 L95.5,570.2 L96.5,565.0 L97.5,562.6 L98.5,561.5 L99.5,558.7 L100.5,559.2 L101.5,556.1 L102.5,556.1 L103.5,551.8 L104.5,551.0 L105.5,552.6 L106.5,549.1 L107.5,550.5 L108.5,546.9 L109.5,546.1 L110.5,545.2 L111.5,542.2 L112.5,539.9 L113.5,540.1 L114.5,541.7 L115.5,540.6 L116.5,541.0 L117.5,539.8 L118.5,539.5 L119.5,538.2 L120.5,536.7 L121.5,538.1 L122.5,537.5 L123.5,535.0 L124.5,537.0 L125.5,537.5 L126.5,537.8 L127.5,533.1 L128.5,533.6 L129.5,533.3 L130.5,533.2 L131.5,531.7 L132.5,533.3 L133.5,532.7 L134.5,533.2 L135.5,532.3 L136.5,532.4 L137.5,530.6 L138.5,530.5 L139.5,529.5 L140.5,530.5 L141.5,531.6 L142.5,529.9 L143.5,529.4 L144.5,529.9 L145.5,529.4 L146.5,527.9 L147.5,529.9 L148.5,529.7 L149.5,531.8 L150.5,531.4 L151.5,532.9 L152.5,532.7 L153.5,530.8 L154.5,530.0 L155.0,529.2" fill="none" stroke="#f08898" stroke-width="2.6" stroke-linejoin="round" opacity="0.35"/>
<path d="M43.5,606.3 L44.5,604.8 L45.5,605.6 L46.5,604.5 L47.5,602.3 L48.5,604.7 L49.5,603.0 L50.5,603.3 L51.5,604.3 L52.5,602.3 L53.5,600.5 L54.5,600.7 L55.5,602.3 L56.5,599.3 L57.5,600.9 L58.5,600.7 L59.5,598.8 L60.5,599.9 L61.5,600.1 L62.5,598.4 L63.5,598.4 L64.5,599.2 L65.5,596.9 L66.5,597.1 L67.5,598.9 L68.5,597.6 L69.5,595.7 L70.5,597.0 L71.5,598.9 L72.5,594.8 L73.5,597.1 L74.5,596.8 L75.5,595.2 L76.5,595.2 L77.5,592.9 L78.5,594.5 L79.5,593.9 L80.5,589.9 L81.5,589.3 L82.5,588.3 L83.5,586.0 L84.5,585.3 L85.5,581.7 L86.5,581.6 L87.5,579.0 L88.5,577.8 L89.5,576.9 L90.5,575.8 L91.5,571.9 L92.5,572.9 L93.5,572.0 L94.5,570.1 L95.5,570.2 L96.5,565.0 L97.5,562.6 L98.5,561.5 L99.5,558.7 L100.5,559.2 L101.5,556.1 L102.5,556.1 L103.5,551.8 L104.5,551.0 L105.5,552.6 L106.5,549.1 L107.5,550.5 L108.5,546.9 L109.5,546.1 L110.5,545.2 L111.5,542.2 L112.5,539.9 L113.5,540.1 L114.5,541.7 L115.5,540.6 L116.5,541.0 L117.5,539.8 L118.5,539.5 L119.5,538.2 L120.5,536.7 L121.5,538.1 L122.5,537.5 L123.5,535.0 L124.5,537.0 L125.5,537.5 L126.5,537.8 L127.5,533.1 L128.5,533.6 L129.5,533.3 L130.5,533.2 L131.5,531.7 L132.5,533.3 L133.5,532.7 L134.5,533.2 L135.5,532.3 L136.5,532.4 L137.5,530.6 L138.5,530.5 L139.5,529.5 L140.5,530.5 L141.5,531.6 L142.5,529.9 L143.5,529.4 L144.5,529.9 L145.5,529.4 L146.5,527.9 L147.5,529.9 L148.5,529.7 L149.5,531.8 L150.5,531.4 L151.5,532.9 L152.5,532.7 L153.5,530.8 L154.5,530.0 L155.0,529.2" fill="none" stroke="#d8283c" stroke-width="1.0" stroke-linejoin="round"/>
<text x="192.2" y="505.9" font-size="24.5" font-weight="bold" fill="#0c0c0c" letter-spacing="0.6">Di</text>
<text x="245.77" y="510.6" font-size="10.6" font-weight="normal" fill="#161616" stroke="#161616" stroke-width="0.3" textLength="51.76" lengthAdjust="spacingAndGlyphs">calcimycin</text>
<rect x="237.6" y="518.9" width="115.70000000000002" height="99.39999999999998" fill="none" stroke="#666" stroke-width="0.9"/>
<line x1="237.60" y1="519.00" x2="237.60" y2="619.00" stroke="#161616" stroke-width="1.1"/>
<line x1="237.00" y1="618.30" x2="353.00" y2="618.30" stroke="#161616" stroke-width="1.1"/>
<line x1="237.60" y1="525.00" x2="232.80" y2="525.00" stroke="#161616" stroke-width="1"/>
<line x1="237.60" y1="603.90" x2="232.80" y2="603.90" stroke="#161616" stroke-width="1"/>
<line x1="237.60" y1="618.30" x2="237.60" y2="621.30" stroke="#161616" stroke-width="0.9"/>
<line x1="242.50" y1="618.30" x2="242.50" y2="620.50" stroke="#161616" stroke-width="0.9"/>
<line x1="247.40" y1="618.30" x2="247.40" y2="620.50" stroke="#161616" stroke-width="0.9"/>
<line x1="252.30" y1="618.30" x2="252.30" y2="620.50" stroke="#161616" stroke-width="0.9"/>
<line x1="257.20" y1="618.30" x2="257.20" y2="621.30" stroke="#161616" stroke-width="0.9"/>
<line x1="262.10" y1="618.30" x2="262.10" y2="620.50" stroke="#161616" stroke-width="0.9"/>
<line x1="267.00" y1="618.30" x2="267.00" y2="620.50" stroke="#161616" stroke-width="0.9"/>
<line x1="271.90" y1="618.30" x2="271.90" y2="620.50" stroke="#161616" stroke-width="0.9"/>
<line x1="276.80" y1="618.30" x2="276.80" y2="621.30" stroke="#161616" stroke-width="0.9"/>
<line x1="281.70" y1="618.30" x2="281.70" y2="620.50" stroke="#161616" stroke-width="0.9"/>
<line x1="286.60" y1="618.30" x2="286.60" y2="620.50" stroke="#161616" stroke-width="0.9"/>
<line x1="291.50" y1="618.30" x2="291.50" y2="620.50" stroke="#161616" stroke-width="0.9"/>
<line x1="296.40" y1="618.30" x2="296.40" y2="621.30" stroke="#161616" stroke-width="0.9"/>
<line x1="301.30" y1="618.30" x2="301.30" y2="620.50" stroke="#161616" stroke-width="0.9"/>
<line x1="306.20" y1="618.30" x2="306.20" y2="620.50" stroke="#161616" stroke-width="0.9"/>
<line x1="311.10" y1="618.30" x2="311.10" y2="620.50" stroke="#161616" stroke-width="0.9"/>
<line x1="316.00" y1="618.30" x2="316.00" y2="621.30" stroke="#161616" stroke-width="0.9"/>
<line x1="320.90" y1="618.30" x2="320.90" y2="620.50" stroke="#161616" stroke-width="0.9"/>
<line x1="325.80" y1="618.30" x2="325.80" y2="620.50" stroke="#161616" stroke-width="0.9"/>
<line x1="330.70" y1="618.30" x2="330.70" y2="620.50" stroke="#161616" stroke-width="0.9"/>
<line x1="335.60" y1="618.30" x2="335.60" y2="621.30" stroke="#161616" stroke-width="0.9"/>
<line x1="340.50" y1="618.30" x2="340.50" y2="620.50" stroke="#161616" stroke-width="0.9"/>
<line x1="345.40" y1="618.30" x2="345.40" y2="620.50" stroke="#161616" stroke-width="0.9"/>
<line x1="350.30" y1="618.30" x2="350.30" y2="620.50" stroke="#161616" stroke-width="0.9"/>
<line x1="268.50" y1="513.80" x2="268.50" y2="552.40" stroke="#161616" stroke-width="1.3"/>
<path d="M264.80,550.40 L268.50,552.60 L272.20,550.40 L268.50,559.40 Z" fill="#161616"/>
<text x="210.66" y="528.9" font-size="10.8" font-weight="normal" fill="#161616" stroke="#161616" stroke-width="0.3" textLength="18.08" lengthAdjust="spacingAndGlyphs">100</text>
<text x="218.46" y="607.7" font-size="10.8" font-weight="normal" fill="#161616" stroke="#161616" stroke-width="0.3" textLength="10.28" lengthAdjust="spacingAndGlyphs">20</text>
<text x="-0.54" y="0" font-size="10.8" fill="#161616" stroke="#161616" stroke-width="0.3" transform="translate(208.1,600.8) rotate(-90)" textLength="10.38" lengthAdjust="spacingAndGlyphs">Ca</text>
<text x="-0.39" y="0" font-size="7.8" fill="#161616" stroke="#161616" stroke-width="0.3" transform="translate(202,590.5) rotate(-90)" textLength="10.78" lengthAdjust="spacingAndGlyphs">2+</text>
<text x="-0.54" y="0" font-size="10.8" fill="#161616" stroke="#161616" stroke-width="0.3" transform="translate(208.1,578) rotate(-90)" textLength="38.58" lengthAdjust="spacingAndGlyphs">uptake</text>
<text x="-0.54" y="0" font-size="10.8" fill="#161616" stroke="#161616" stroke-width="0.3" transform="translate(220.6,596.1) rotate(-90)" textLength="52.78" lengthAdjust="spacingAndGlyphs">(FL1 units)</text>
<text x="236.76" y="632.5" font-size="10.8" font-weight="normal" fill="#161616" stroke="#161616" stroke-width="0.3" textLength="6.28" lengthAdjust="spacingAndGlyphs">0</text>
<text x="276.76" y="634.6" font-size="10.8" font-weight="normal" fill="#161616" stroke="#161616" stroke-width="0.3" textLength="38.18" lengthAdjust="spacingAndGlyphs">Time (s)</text>
<text x="327.66" y="633.6" font-size="10.8" font-weight="normal" fill="#161616" stroke="#161616" stroke-width="0.3" textLength="17.68" lengthAdjust="spacingAndGlyphs">100</text>
<text x="348.21" y="505" font-size="10.8" font-weight="normal" fill="#161616" stroke="#161616" stroke-width="0.3" textLength="18.58" lengthAdjust="spacingAndGlyphs">B10</text>
<line x1="355.20" y1="510.20" x2="344.40" y2="530.40" stroke="#161616" stroke-width="1.2"/>
<text x="305.76" y="587" font-size="10.8" font-weight="normal" fill="#161616" stroke="#161616" stroke-width="0.3" textLength="23.98" lengthAdjust="spacingAndGlyphs">NZW</text>
<line x1="275.40" y1="564.20" x2="303.10" y2="577.60" stroke="#161616" stroke-width="1.2"/>
<path d="M237.8,611.3 L239.1,611.3 L240.4,611.4 L241.7,611.3 L243.0,611.1 L244.3,611.3 L245.6,611.4 L246.9,611.2 L248.2,610.9 L249.5,610.7 L250.8,610.7 L252.1,610.7 L253.4,610.5 L254.7,611.0 L256.0,611.0 L257.3,611.2 L258.6,611.3 L259.9,611.4 L261.2,611.5 L262.5,611.7 L263.8,611.5 L265.1,611.8 L266.4,611.5" fill="none" stroke="#e2788a" stroke-width="1" stroke-linejoin="round"/>
<path d="M237.8,611.1 L239.1,611.1 L240.4,611.2 L241.7,611.2 L243.0,611.1 L244.3,611.3 L245.6,611.4 L246.9,611.4 L248.2,611.2 L249.5,611.1 L250.8,611.2 L252.1,611.3 L253.4,611.0 L254.7,611.3 L256.0,611.1 L257.3,611.2 L258.6,611.2 L259.9,611.3 L261.2,611.4 L262.5,611.5 L263.8,611.3 L265.1,611.5 L266.4,611.2" fill="none" stroke="#7890e2" stroke-width="0.9" stroke-linejoin="round"/>
<path d="M275.8,545.4 L277.0,545.2 L278.2,545.2 L279.4,545.4 L280.6,544.8 L281.8,544.4 L283.0,544.7 L284.2,545.8 L285.4,545.5 L286.6,545.6 L287.8,545.8 L289.0,545.9 L290.2,545.8 L291.4,546.1 L292.6,545.2 L293.8,544.6 L295.0,545.2 L296.2,544.2 L297.4,543.5 L298.6,542.5 L299.8,541.7 L301.0,542.2 L302.2,540.9 L303.4,540.8 L304.6,540.5 L305.8,541.4 L307.0,541.2 L308.2,541.0 L309.4,541.5 L310.6,542.0 L311.8,541.2 L313.0,541.4 L314.2,541.8 L315.4,541.5 L316.6,541.0 L317.8,541.6 L319.0,543.3 L320.2,544.2 L321.4,543.3 L322.6,543.8 L323.8,543.6 L325.0,543.9 L326.2,542.4 L327.4,542.8 L328.6,542.3 L329.8,542.3 L331.0,540.9 L332.2,538.7 L333.4,536.0 L334.6,533.3 L335.8,533.5 L337.0,533.1 L338.2,534.3 L339.4,533.0 L340.6,533.0 L341.8,532.9 L343.0,532.9 L344.2,533.6 L345.4,533.4 L346.6,536.3 L347.8,540.2 L349.0,540.8 L350.2,541.9 L351.3,542.6" fill="none" stroke="#f4c0c6" stroke-width="2.6" stroke-linejoin="round" opacity="0.35"/>
<path d="M275.8,545.4 L277.0,545.2 L278.2,545.2 L279.4,545.4 L280.6,544.8 L281.8,544.4 L283.0,544.7 L284.2,545.8 L285.4,545.5 L286.6,545.6 L287.8,545.8 L289.0,545.9 L290.2,545.8 L291.4,546.1 L292.6,545.2 L293.8,544.6 L295.0,545.2 L296.2,544.2 L297.4,543.5 L298.6,542.5 L299.8,541.7 L301.0,542.2 L302.2,540.9 L303.4,540.8 L304.6,540.5 L305.8,541.4 L307.0,541.2 L308.2,541.0 L309.4,541.5 L310.6,542.0 L311.8,541.2 L313.0,541.4 L314.2,541.8 L315.4,541.5 L316.6,541.0 L317.8,541.6 L319.0,543.3 L320.2,544.2 L321.4,543.3 L322.6,543.8 L323.8,543.6 L325.0,543.9 L326.2,542.4 L327.4,542.8 L328.6,542.3 L329.8,542.3 L331.0,540.9 L332.2,538.7 L333.4,536.0 L334.6,533.3 L335.8,533.5 L337.0,533.1 L338.2,534.3 L339.4,533.0 L340.6,533.0 L341.8,532.9 L343.0,532.9 L344.2,533.6 L345.4,533.4 L346.6,536.3 L347.8,540.2 L349.0,540.8 L350.2,541.9 L351.3,542.6" fill="none" stroke="#e2788a" stroke-width="1.0" stroke-linejoin="round"/>
<path d="M273.2,574.8 L274.4,563.1 L275.6,554.7 L276.8,550.5 L278.0,550.0 L279.2,549.9 L280.4,550.3 L281.6,550.9 L282.8,551.4 L284.0,553.1 L285.2,554.0 L286.4,553.0 L287.6,551.6 L288.8,550.6 L290.0,551.3 L291.2,550.5 L292.4,550.1 L293.6,550.0 L294.8,549.2 L296.0,546.9 L297.2,546.0 L298.4,543.7 L299.6,543.5 L300.8,543.3 L302.0,543.3 L303.2,543.7 L304.4,544.6 L305.6,544.7 L306.8,544.7 L308.0,544.5 L309.2,546.9 L310.4,548.6 L311.6,550.6 L312.8,550.1 L314.0,549.6 L315.2,550.6 L316.4,550.2 L317.6,548.2 L318.8,546.0 L320.0,544.4 L321.2,544.0 L322.4,544.0 L323.6,543.3 L324.8,543.4 L326.0,543.5 L327.2,539.6 L328.4,533.2 L329.6,525.8 L330.8,525.0 L332.0,524.9 L333.2,528.2 L334.4,532.3 L335.6,537.9 L336.8,543.6 L338.0,544.1 L339.2,545.2 L340.4,543.6 L341.6,542.1 L342.8,541.0 L344.0,540.7 L345.2,540.6 L346.4,540.3 L347.6,540.4 L348.8,542.5 L350.0,543.2 L351.2,543.6 L351.3,543.8" fill="none" stroke="#c0ccf4" stroke-width="2.6" stroke-linejoin="round" opacity="0.35"/>
<path d="M273.2,574.8 L274.4,563.1 L275.6,554.7 L276.8,550.5 L278.0,550.0 L279.2,549.9 L280.4,550.3 L281.6,550.9 L282.8,551.4 L284.0,553.1 L285.2,554.0 L286.4,553.0 L287.6,551.6 L288.8,550.6 L290.0,551.3 L291.2,550.5 L292.4,550.1 L293.6,550.0 L294.8,549.2 L296.0,546.9 L297.2,546.0 L298.4,543.7 L299.6,543.5 L300.8,543.3 L302.0,543.3 L303.2,543.7 L304.4,544.6 L305.6,544.7 L306.8,544.7 L308.0,544.5 L309.2,546.9 L310.4,548.6 L311.6,550.6 L312.8,550.1 L314.0,549.6 L315.2,550.6 L316.4,550.2 L317.6,548.2 L318.8,546.0 L320.0,544.4 L321.2,544.0 L322.4,544.0 L323.6,543.3 L324.8,543.4 L326.0,543.5 L327.2,539.6 L328.4,533.2 L329.6,525.8 L330.8,525.0 L332.0,524.9 L333.2,528.2 L334.4,532.3 L335.6,537.9 L336.8,543.6 L338.0,544.1 L339.2,545.2 L340.4,543.6 L341.6,542.1 L342.8,541.0 L344.0,540.7 L345.2,540.6 L346.4,540.3 L347.6,540.4 L348.8,542.5 L350.0,543.2 L351.2,543.6 L351.3,543.8" fill="none" stroke="#7890e2" stroke-width="1.0" stroke-linejoin="round"/>
<text x="377" y="506.2" font-size="24.5" font-weight="bold" fill="#0c0c0c" letter-spacing="0.6">ii</text>
<text x="394.47" y="510.2" font-size="10.6" font-weight="normal" fill="#161616" stroke="#161616" stroke-width="0.3" textLength="53.06" lengthAdjust="spacingAndGlyphs">calcimycin</text>
<rect x="392.9" y="516.8" width="112.70000000000005" height="101.80000000000007" fill="none" stroke="#666" stroke-width="0.9"/>
<line x1="392.90" y1="516.50" x2="392.90" y2="619.00" stroke="#161616" stroke-width="1.1"/>
<line x1="392.50" y1="618.60" x2="506.30" y2="618.60" stroke="#161616" stroke-width="1.1"/>
<line x1="392.90" y1="525.30" x2="390.80" y2="525.30" stroke="#161616" stroke-width="0.9"/>
<line x1="392.90" y1="550.00" x2="390.80" y2="550.00" stroke="#161616" stroke-width="0.9"/>
<line x1="392.90" y1="574.70" x2="390.80" y2="574.70" stroke="#161616" stroke-width="0.9"/>
<line x1="392.90" y1="598.60" x2="390.80" y2="598.60" stroke="#161616" stroke-width="0.9"/>
<line x1="393.30" y1="618.60" x2="393.30" y2="621.60" stroke="#161616" stroke-width="0.9"/>
<line x1="398.07" y1="618.60" x2="398.07" y2="620.80" stroke="#161616" stroke-width="0.9"/>
<line x1="402.85" y1="618.60" x2="402.85" y2="620.80" stroke="#161616" stroke-width="0.9"/>
<line x1="407.62" y1="618.60" x2="407.62" y2="620.80" stroke="#161616" stroke-width="0.9"/>
<line x1="412.40" y1="618.60" x2="412.40" y2="621.60" stroke="#161616" stroke-width="0.9"/>
<line x1="417.18" y1="618.60" x2="417.18" y2="620.80" stroke="#161616" stroke-width="0.9"/>
<line x1="421.95" y1="618.60" x2="421.95" y2="620.80" stroke="#161616" stroke-width="0.9"/>
<line x1="426.73" y1="618.60" x2="426.73" y2="620.80" stroke="#161616" stroke-width="0.9"/>
<line x1="431.50" y1="618.60" x2="431.50" y2="621.60" stroke="#161616" stroke-width="0.9"/>
<line x1="436.28" y1="618.60" x2="436.28" y2="620.80" stroke="#161616" stroke-width="0.9"/>
<line x1="441.05" y1="618.60" x2="441.05" y2="620.80" stroke="#161616" stroke-width="0.9"/>
<line x1="445.83" y1="618.60" x2="445.83" y2="620.80" stroke="#161616" stroke-width="0.9"/>
<line x1="450.60" y1="618.60" x2="450.60" y2="621.60" stroke="#161616" stroke-width="0.9"/>
<line x1="455.38" y1="618.60" x2="455.38" y2="620.80" stroke="#161616" stroke-width="0.9"/>
<line x1="460.15" y1="618.60" x2="460.15" y2="620.80" stroke="#161616" stroke-width="0.9"/>
<line x1="464.93" y1="618.60" x2="464.93" y2="620.80" stroke="#161616" stroke-width="0.9"/>
<line x1="469.70" y1="618.60" x2="469.70" y2="621.60" stroke="#161616" stroke-width="0.9"/>
<line x1="474.48" y1="618.60" x2="474.48" y2="620.80" stroke="#161616" stroke-width="0.9"/>
<line x1="479.25" y1="618.60" x2="479.25" y2="620.80" stroke="#161616" stroke-width="0.9"/>
<line x1="484.03" y1="618.60" x2="484.03" y2="620.80" stroke="#161616" stroke-width="0.9"/>
<line x1="488.80" y1="618.60" x2="488.80" y2="621.60" stroke="#161616" stroke-width="0.9"/>
<line x1="493.58" y1="618.60" x2="493.58" y2="620.80" stroke="#161616" stroke-width="0.9"/>
<line x1="498.35" y1="618.60" x2="498.35" y2="620.80" stroke="#161616" stroke-width="0.9"/>
<line x1="503.12" y1="618.60" x2="503.12" y2="620.80" stroke="#161616" stroke-width="0.9"/>
<line x1="418.50" y1="514.70" x2="418.50" y2="551.00" stroke="#161616" stroke-width="1.3"/>
<path d="M414.80,549.00 L418.50,551.20 L422.20,549.00 L418.50,558.00 Z" fill="#161616"/>
<text x="374.26" y="530.4" font-size="10.8" font-weight="normal" fill="#161616" stroke="#161616" stroke-width="0.3" textLength="13.28" lengthAdjust="spacingAndGlyphs">80</text>
<text x="375.96" y="602.8" font-size="10.8" font-weight="normal" fill="#161616" stroke="#161616" stroke-width="0.3" textLength="11.58" lengthAdjust="spacingAndGlyphs">20</text>
<text x="390.16" y="634.5" font-size="10.8" font-weight="normal" fill="#161616" stroke="#161616" stroke-width="0.3" textLength="6.28" lengthAdjust="spacingAndGlyphs">0</text>
<text x="428.06" y="634.5" font-size="10.8" font-weight="normal" fill="#161616" stroke="#161616" stroke-width="0.3" textLength="39.28" lengthAdjust="spacingAndGlyphs">Time (s)</text>
<text x="479.26" y="634.5" font-size="10.8" font-weight="normal" fill="#161616" stroke="#161616" stroke-width="0.3" textLength="19.28" lengthAdjust="spacingAndGlyphs">100</text>
<text x="493.96" y="500.5" font-size="10.8" font-weight="normal" fill="#161616" stroke="#161616" stroke-width="0.3" textLength="25.33" lengthAdjust="spacingAndGlyphs">NZW</text>
<line x1="504.10" y1="504.00" x2="496.90" y2="521.90" stroke="#161616" stroke-width="1.2"/>
<text x="466.56" y="575.4" font-size="10.8" font-weight="normal" fill="#161616" stroke="#161616" stroke-width="0.3" textLength="27.98" lengthAdjust="spacingAndGlyphs">DBA2</text>
<line x1="480.20" y1="564.40" x2="494.80" y2="537.30" stroke="#161616" stroke-width="1.2"/>
<path d="M393.2,612.2 L394.5,612.2 L395.8,612.3 L397.1,612.2 L398.4,612.1 L399.7,612.2 L401.0,612.3 L402.3,612.3 L403.6,612.1 L404.9,612.1 L406.2,612.1 L407.5,612.2 L408.8,612.0 L410.1,612.2 L411.4,612.1 L412.7,612.1 L414.0,612.1 L415.3,612.2 L416.6,612.2 L417.9,612.3 L418.2,612.2" fill="none" stroke="#7890e2" stroke-width="1" stroke-linejoin="round"/>
<path d="M393.2,611.8 L394.5,611.7 L395.8,611.7 L397.1,611.5 L398.4,611.3 L399.7,611.3 L401.0,611.3 L402.3,611.1 L403.6,610.7 L404.9,610.4 L406.2,610.4 L407.5,610.4 L408.8,609.9 L410.1,610.2 L411.4,610.2 L412.7,610.4 L414.0,610.5 L415.3,610.6 L416.6,610.8 L417.9,610.9 L418.2,610.8" fill="none" stroke="#e2788a" stroke-width="1" stroke-linejoin="round"/>
<path d="M425.3,555.2 L426.5,552.7 L427.7,550.9 L428.9,547.8 L430.1,543.3 L431.3,537.1 L432.5,535.8 L433.7,535.0 L434.9,534.9 L436.1,535.5 L437.3,534.0 L438.5,533.8 L439.7,533.9 L440.9,533.4 L442.1,533.3 L443.3,533.4 L444.5,533.5 L445.7,533.4 L446.9,532.6 L448.1,532.4 L449.3,531.5 L450.5,529.8 L451.7,529.1 L452.9,527.8 L454.1,528.0 L455.3,527.9 L456.5,528.1 L457.7,527.0 L458.9,527.6 L460.1,526.8 L461.3,527.4 L462.5,527.1 L463.7,527.8 L464.9,528.6 L466.1,531.1 L467.3,533.5 L468.5,531.9 L469.7,530.5 L470.9,529.3 L472.1,528.9 L473.3,528.7 L474.5,528.2 L475.7,528.5 L476.9,529.1 L478.1,529.1 L479.3,527.4 L480.5,525.8 L481.7,523.9 L482.9,523.9 L484.1,524.6 L485.3,525.4 L486.5,526.0 L487.7,526.3 L488.9,526.5 L490.1,527.5 L491.3,528.1 L492.5,531.3 L493.7,533.4 L494.9,534.7 L496.1,535.8 L497.3,536.9 L498.5,538.0 L499.7,538.6 L500.9,540.2 L502.1,541.1 L503.3,542.9 L503.6,543.3" fill="none" stroke="#f4c0c6" stroke-width="2.6" stroke-linejoin="round" opacity="0.35"/>
<path d="M425.3,555.2 L426.5,552.7 L427.7,550.9 L428.9,547.8 L430.1,543.3 L431.3,537.1 L432.5,535.8 L433.7,535.0 L434.9,534.9 L436.1,535.5 L437.3,534.0 L438.5,533.8 L439.7,533.9 L440.9,533.4 L442.1,533.3 L443.3,533.4 L444.5,533.5 L445.7,533.4 L446.9,532.6 L448.1,532.4 L449.3,531.5 L450.5,529.8 L451.7,529.1 L452.9,527.8 L454.1,528.0 L455.3,527.9 L456.5,528.1 L457.7,527.0 L458.9,527.6 L460.1,526.8 L461.3,527.4 L462.5,527.1 L463.7,527.8 L464.9,528.6 L466.1,531.1 L467.3,533.5 L468.5,531.9 L469.7,530.5 L470.9,529.3 L472.1,528.9 L473.3,528.7 L474.5,528.2 L475.7,528.5 L476.9,529.1 L478.1,529.1 L479.3,527.4 L480.5,525.8 L481.7,523.9 L482.9,523.9 L484.1,524.6 L485.3,525.4 L486.5,526.0 L487.7,526.3 L488.9,526.5 L490.1,527.5 L491.3,528.1 L492.5,531.3 L493.7,533.4 L494.9,534.7 L496.1,535.8 L497.3,536.9 L498.5,538.0 L499.7,538.6 L500.9,540.2 L502.1,541.1 L503.3,542.9 L503.6,543.3" fill="none" stroke="#e2788a" stroke-width="1.0" stroke-linejoin="round"/>
<path d="M427.2,545.9 L428.4,545.6 L429.6,545.7 L430.8,544.8 L432.0,543.9 L433.2,543.1 L434.4,542.2 L435.6,540.9 L436.8,541.6 L438.0,542.4 L439.2,542.6 L440.4,541.3 L441.6,540.4 L442.8,538.2 L444.0,537.8 L445.2,537.7 L446.4,537.1 L447.6,537.4 L448.8,538.2 L450.0,537.0 L451.2,537.2 L452.4,535.5 L453.6,535.7 L454.8,535.9 L456.0,535.6 L457.2,536.4 L458.4,536.1 L459.6,536.5 L460.8,536.1 L462.0,535.2 L463.2,534.0 L464.4,533.2 L465.6,533.4 L466.8,534.0 L468.0,533.2 L469.2,531.9 L470.4,529.8 L471.6,529.2 L472.8,529.1 L474.0,528.4 L475.2,529.2 L476.4,528.6 L477.6,528.9 L478.8,529.2 L480.0,530.3 L481.2,531.1 L482.4,530.9 L483.6,529.9 L484.8,530.2 L486.0,529.4 L487.2,528.9 L488.4,527.8 L489.6,527.8 L490.8,527.8 L492.0,526.6 L493.2,525.2 L494.4,524.0 L495.6,522.7 L496.8,523.9 L498.0,524.7 L499.2,524.7 L500.4,524.0 L501.6,523.3 L502.8,523.3 L503.2,523.7" fill="none" stroke="#c0ccf4" stroke-width="2.6" stroke-linejoin="round" opacity="0.35"/>
<path d="M427.2,545.9 L428.4,545.6 L429.6,545.7 L430.8,544.8 L432.0,543.9 L433.2,543.1 L434.4,542.2 L435.6,540.9 L436.8,541.6 L438.0,542.4 L439.2,542.6 L440.4,541.3 L441.6,540.4 L442.8,538.2 L444.0,537.8 L445.2,537.7 L446.4,537.1 L447.6,537.4 L448.8,538.2 L450.0,537.0 L451.2,537.2 L452.4,535.5 L453.6,535.7 L454.8,535.9 L456.0,535.6 L457.2,536.4 L458.4,536.1 L459.6,536.5 L460.8,536.1 L462.0,535.2 L463.2,534.0 L464.4,533.2 L465.6,533.4 L466.8,534.0 L468.0,533.2 L469.2,531.9 L470.4,529.8 L471.6,529.2 L472.8,529.1 L474.0,528.4 L475.2,529.2 L476.4,528.6 L477.6,528.9 L478.8,529.2 L480.0,530.3 L481.2,531.1 L482.4,530.9 L483.6,529.9 L484.8,530.2 L486.0,529.4 L487.2,528.9 L488.4,527.8 L489.6,527.8 L490.8,527.8 L492.0,526.6 L493.2,525.2 L494.4,524.0 L495.6,522.7 L496.8,523.9 L498.0,524.7 L499.2,524.7 L500.4,524.0 L501.6,523.3 L502.8,523.3 L503.2,523.7" fill="none" stroke="#7890e2" stroke-width="1.0" stroke-linejoin="round"/>
</svg></body></html>
